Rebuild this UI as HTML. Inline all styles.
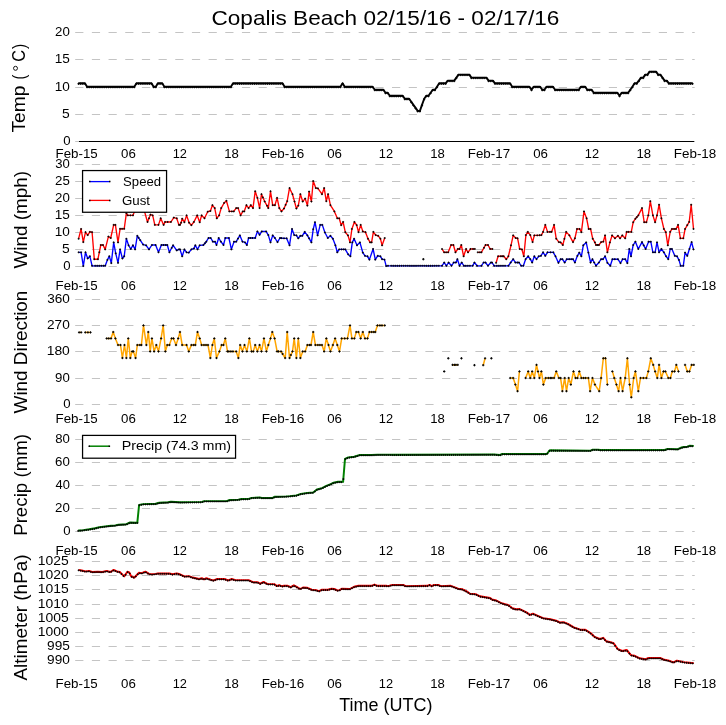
<!DOCTYPE html><html><head><meta charset="utf-8"><style>html,body{margin:0;padding:0;background:#fff;width:726px;height:725px;overflow:hidden}svg{display:block;will-change:transform}text{font-family:"Liberation Sans", sans-serif;fill:#000}</style></head><body>
<svg width="726" height="725" viewBox="0 0 726 725">
<rect width="726" height="725" fill="#fff"/>
<text transform="translate(211.47,24.90) scale(1.0884,1)" font-size="20.77">Copalis Beach 02/15/16 - 02/17/16</text>
<path d="M75.2,32.5H694.7M75.2,59.5H694.7M75.2,87.5H694.7M75.2,114.5H694.7M75.2,141.5H694.7" stroke="#c4c4c4" stroke-width="1" stroke-dasharray="8.2,8.475" fill="none"/>
<text transform="translate(55.09,35.95) scale(1.0251,1)" font-size="12.93">20</text>
<text transform="translate(54.73,62.95) scale(1.0535,1)" font-size="12.93">15</text>
<text transform="translate(54.73,90.95) scale(1.0508,1)" font-size="12.93">10</text>
<text transform="translate(62.04,117.95) scale(1.0749,1)" font-size="12.93">5</text>
<text transform="translate(63.17,144.95) scale(1.0206,1)" font-size="12.93">0</text>
<text transform="translate(55.53,157.67) scale(1.0307,1)" font-size="12.93">Feb-15</text>
<text transform="translate(121.05,157.67) scale(1.0258,1)" font-size="12.93">06</text>
<text transform="translate(172.67,157.67) scale(0.9930,1)" font-size="12.93">12</text>
<text transform="translate(224.18,157.67) scale(1.0156,1)" font-size="12.93">18</text>
<text transform="translate(261.63,157.67) scale(1.0388,1)" font-size="12.93">Feb-16</text>
<text transform="translate(327.15,157.67) scale(1.0258,1)" font-size="12.93">06</text>
<text transform="translate(378.77,157.67) scale(0.9930,1)" font-size="12.93">12</text>
<text transform="translate(430.28,157.67) scale(1.0156,1)" font-size="12.93">18</text>
<text transform="translate(467.73,157.67) scale(1.0341,1)" font-size="12.93">Feb-17</text>
<text transform="translate(533.25,157.67) scale(1.0258,1)" font-size="12.93">06</text>
<text transform="translate(584.87,157.67) scale(0.9930,1)" font-size="12.93">12</text>
<text transform="translate(636.38,157.67) scale(1.0156,1)" font-size="12.93">18</text>
<text transform="translate(673.83,157.67) scale(1.0372,1)" font-size="12.93">Feb-18</text>
<text transform="translate(25.00,132.53) rotate(-90) scale(1.0548,1)" font-size="18.22">Temp</text>
<text transform="translate(25.00,79.50) rotate(-90) scale(0.7943,1)" font-size="18.22">(</text>
<circle cx="15.5" cy="68.3" r="2.0" fill="none" stroke="#000" stroke-width="0.9"/>
<text transform="translate(25.00,61.81) rotate(-90) scale(0.8935,1)" font-size="18.22">C</text>
<text transform="translate(25.00,49.12) rotate(-90) scale(0.8779,1)" font-size="18.22">)</text>
<path d="M75.2,164.5H694.7M75.2,181.5H694.7M75.2,198.5H694.7M75.2,215.5H694.7M75.2,232.5H694.7M75.2,249.5H694.7M75.2,266.5H694.7" stroke="#c4c4c4" stroke-width="1" stroke-dasharray="8.2,8.475" fill="none"/>
<text transform="translate(55.26,167.95) scale(1.0127,1)" font-size="12.93">30</text>
<text transform="translate(55.09,184.95) scale(1.0276,1)" font-size="12.93">25</text>
<text transform="translate(55.09,201.95) scale(1.0251,1)" font-size="12.93">20</text>
<text transform="translate(54.73,218.95) scale(1.0535,1)" font-size="12.93">15</text>
<text transform="translate(54.73,235.95) scale(1.0508,1)" font-size="12.93">10</text>
<text transform="translate(62.04,252.95) scale(1.0749,1)" font-size="12.93">5</text>
<text transform="translate(63.17,269.95) scale(1.0206,1)" font-size="12.93">0</text>
<text transform="translate(55.53,289.60) scale(1.0307,1)" font-size="12.93">Feb-15</text>
<text transform="translate(121.05,289.60) scale(1.0258,1)" font-size="12.93">06</text>
<text transform="translate(172.67,289.60) scale(0.9930,1)" font-size="12.93">12</text>
<text transform="translate(224.18,289.60) scale(1.0156,1)" font-size="12.93">18</text>
<text transform="translate(261.63,289.60) scale(1.0388,1)" font-size="12.93">Feb-16</text>
<text transform="translate(327.15,289.60) scale(1.0258,1)" font-size="12.93">06</text>
<text transform="translate(378.77,289.60) scale(0.9930,1)" font-size="12.93">12</text>
<text transform="translate(430.28,289.60) scale(1.0156,1)" font-size="12.93">18</text>
<text transform="translate(467.73,289.60) scale(1.0341,1)" font-size="12.93">Feb-17</text>
<text transform="translate(533.25,289.60) scale(1.0258,1)" font-size="12.93">06</text>
<text transform="translate(584.87,289.60) scale(0.9930,1)" font-size="12.93">12</text>
<text transform="translate(636.38,289.60) scale(1.0156,1)" font-size="12.93">18</text>
<text transform="translate(673.83,289.60) scale(1.0372,1)" font-size="12.93">Feb-18</text>
<text transform="translate(26.97,268.59) rotate(-90) scale(1.0382,1)" font-size="18.22">Wind (mph)</text>
<path d="M75.2,299.5H694.7M75.2,325.5H694.7M75.2,351.5H694.7M75.2,378.5H694.7M75.2,404.5H694.7" stroke="#c4c4c4" stroke-width="1" stroke-dasharray="8.2,8.475" fill="none"/>
<text transform="translate(47.19,302.95) scale(1.0492,1)" font-size="12.93">360</text>
<text transform="translate(47.02,328.95) scale(1.0575,1)" font-size="12.93">270</text>
<text transform="translate(46.66,354.95) scale(1.0745,1)" font-size="12.93">180</text>
<text transform="translate(55.12,381.95) scale(1.0226,1)" font-size="12.93">90</text>
<text transform="translate(63.17,407.95) scale(1.0206,1)" font-size="12.93">0</text>
<text transform="translate(55.53,422.50) scale(1.0307,1)" font-size="12.93">Feb-15</text>
<text transform="translate(121.05,422.50) scale(1.0258,1)" font-size="12.93">06</text>
<text transform="translate(172.67,422.50) scale(0.9930,1)" font-size="12.93">12</text>
<text transform="translate(224.18,422.50) scale(1.0156,1)" font-size="12.93">18</text>
<text transform="translate(261.63,422.50) scale(1.0388,1)" font-size="12.93">Feb-16</text>
<text transform="translate(327.15,422.50) scale(1.0258,1)" font-size="12.93">06</text>
<text transform="translate(378.77,422.50) scale(0.9930,1)" font-size="12.93">12</text>
<text transform="translate(430.28,422.50) scale(1.0156,1)" font-size="12.93">18</text>
<text transform="translate(467.73,422.50) scale(1.0341,1)" font-size="12.93">Feb-17</text>
<text transform="translate(533.25,422.50) scale(1.0258,1)" font-size="12.93">06</text>
<text transform="translate(584.87,422.50) scale(0.9930,1)" font-size="12.93">12</text>
<text transform="translate(636.38,422.50) scale(1.0156,1)" font-size="12.93">18</text>
<text transform="translate(673.83,422.50) scale(1.0372,1)" font-size="12.93">Feb-18</text>
<text transform="translate(26.97,413.39) rotate(-90) scale(1.0368,1)" font-size="18.22">Wind Direction</text>
<path d="M75.2,439.5H694.7M75.2,462.5H694.7M75.2,485.5H694.7M75.2,508.5H694.7M75.2,531.5H694.7" stroke="#c4c4c4" stroke-width="1" stroke-dasharray="8.2,8.475" fill="none"/>
<text transform="translate(55.19,442.95) scale(1.0177,1)" font-size="12.93">80</text>
<text transform="translate(55.09,465.95) scale(1.0251,1)" font-size="12.93">60</text>
<text transform="translate(55.46,488.95) scale(0.9983,1)" font-size="12.93">40</text>
<text transform="translate(55.09,511.95) scale(1.0251,1)" font-size="12.93">20</text>
<text transform="translate(63.17,534.95) scale(1.0206,1)" font-size="12.93">0</text>
<text transform="translate(55.53,554.60) scale(1.0307,1)" font-size="12.93">Feb-15</text>
<text transform="translate(121.05,554.60) scale(1.0258,1)" font-size="12.93">06</text>
<text transform="translate(172.67,554.60) scale(0.9930,1)" font-size="12.93">12</text>
<text transform="translate(224.18,554.60) scale(1.0156,1)" font-size="12.93">18</text>
<text transform="translate(261.63,554.60) scale(1.0388,1)" font-size="12.93">Feb-16</text>
<text transform="translate(327.15,554.60) scale(1.0258,1)" font-size="12.93">06</text>
<text transform="translate(378.77,554.60) scale(0.9930,1)" font-size="12.93">12</text>
<text transform="translate(430.28,554.60) scale(1.0156,1)" font-size="12.93">18</text>
<text transform="translate(467.73,554.60) scale(1.0341,1)" font-size="12.93">Feb-17</text>
<text transform="translate(533.25,554.60) scale(1.0258,1)" font-size="12.93">06</text>
<text transform="translate(584.87,554.60) scale(0.9930,1)" font-size="12.93">12</text>
<text transform="translate(636.38,554.60) scale(1.0156,1)" font-size="12.93">18</text>
<text transform="translate(673.83,554.60) scale(1.0372,1)" font-size="12.93">Feb-18</text>
<text transform="translate(26.97,535.85) rotate(-90) scale(1.0280,1)" font-size="18.22">Precip (mm)</text>
<path d="M75.2,561.5H694.7M75.2,575.5H694.7M75.2,589.5H694.7M75.2,604.5H694.7M75.2,618.5H694.7M75.2,632.5H694.7M75.2,646.5H694.7M75.2,660.5H694.7" stroke="#c4c4c4" stroke-width="1" stroke-dasharray="8.2,8.475" fill="none"/>
<text transform="translate(37.86,564.95) scale(1.0755,1)" font-size="12.93">1025</text>
<text transform="translate(37.86,578.95) scale(1.0742,1)" font-size="12.93">1020</text>
<text transform="translate(37.86,592.95) scale(1.0755,1)" font-size="12.93">1015</text>
<text transform="translate(37.86,607.95) scale(1.0742,1)" font-size="12.93">1010</text>
<text transform="translate(37.86,621.95) scale(1.0755,1)" font-size="12.93">1005</text>
<text transform="translate(37.86,635.95) scale(1.0742,1)" font-size="12.93">1000</text>
<text transform="translate(47.05,649.95) scale(1.0575,1)" font-size="12.93">995</text>
<text transform="translate(47.05,663.95) scale(1.0559,1)" font-size="12.93">990</text>
<text transform="translate(55.53,687.50) scale(1.0307,1)" font-size="12.93">Feb-15</text>
<text transform="translate(121.05,687.50) scale(1.0258,1)" font-size="12.93">06</text>
<text transform="translate(172.67,687.50) scale(0.9930,1)" font-size="12.93">12</text>
<text transform="translate(224.18,687.50) scale(1.0156,1)" font-size="12.93">18</text>
<text transform="translate(261.63,687.50) scale(1.0388,1)" font-size="12.93">Feb-16</text>
<text transform="translate(327.15,687.50) scale(1.0258,1)" font-size="12.93">06</text>
<text transform="translate(378.77,687.50) scale(0.9930,1)" font-size="12.93">12</text>
<text transform="translate(430.28,687.50) scale(1.0156,1)" font-size="12.93">18</text>
<text transform="translate(467.73,687.50) scale(1.0341,1)" font-size="12.93">Feb-17</text>
<text transform="translate(533.25,687.50) scale(1.0258,1)" font-size="12.93">06</text>
<text transform="translate(584.87,687.50) scale(0.9930,1)" font-size="12.93">12</text>
<text transform="translate(636.38,687.50) scale(1.0156,1)" font-size="12.93">18</text>
<text transform="translate(673.83,687.50) scale(1.0372,1)" font-size="12.93">Feb-18</text>
<text transform="translate(26.97,680.55) rotate(-90) scale(1.0388,1)" font-size="18.22">Altimeter (hPa)</text>
<path d="M79,141.5H694.2" stroke="#000" stroke-width="1.1"/>
<text transform="translate(339.30,710.80) scale(0.9871,1)" font-size="18.22">Time (UTC)</text>
<path d="M78.6,238.7 L81.1,229.0 L83.3,242.1 L85.5,232.2 L87.7,235.1 L89.9,231.9 L92.1,232.2 L94.3,259.2 L97.9,259.2 L100.8,245.0 L103.0,245.0 L105.2,249.4 L108.4,236.6 L110.7,238.0 L113.7,224.9 L115.4,224.9 L118.0,242.4 L120.1,228.8 L124.2,228.8 L126.4,213.2 L127.8,215.4 L132.9,215.4 L134.4,211.7 L137.3,208.8 L141.7,208.8 L144.6,211.7 L147.5,222.0 L150.5,214.6 L152.7,215.4 L154.8,224.9 L158.5,224.9 L160.7,218.3 L163.6,224.9 L165.1,222.0 L170.9,222.0 L173.8,217.6 L176.7,218.3 L178.9,224.9 L180.0,224.9 L181.1,222.7 L182.2,218.7 L184.4,222.2 L186.6,215.4 L189.1,222.7 L191.4,225.2 L193.9,222.0 L197.2,215.4 L199.7,222.2 L201.6,215.4 L204.5,218.3 L207.7,211.7 L210.4,211.0 L212.4,205.2 L214.7,208.1 L216.8,218.3 L219.1,215.4 L221.2,208.1 L224.1,203.0 L226.4,200.8 L229.4,211.4 L233.7,211.4 L236.2,208.1 L238.1,208.1 L240.6,215.4 L242.8,211.4 L244.2,211.4 L246.4,205.2 L248.6,208.1 L250.8,205.2 L253.0,208.1 L255.2,191.3 L257.4,197.9 L259.6,208.1 L261.5,194.2 L264.7,201.5 L268.3,208.1 L270.5,191.3 L272.7,205.2 L274.9,205.2 L277.1,197.9 L279.3,208.1 L281.5,211.4 L284.0,208.5 L287.2,201.2 L289.5,188.1 L292.5,194.2 L294.5,201.5 L296.4,208.5 L298.3,205.6 L300.4,194.2 L302.7,201.5 L305.2,198.6 L307.4,205.6 L309.1,191.6 L311.4,201.5 L313.2,181.1 L315.8,188.1 L317.9,188.4 L322.0,194.2 L324.2,188.1 L326.3,201.2 L328.1,194.2 L330.4,205.2 L334.4,211.4 L337.3,218.3 L339.2,218.3 L341.2,225.2 L343.1,222.0 L345.3,232.2 L348.0,235.4 L350.0,242.4 L351.9,229.0 L354.4,222.0 L356.7,225.2 L358.5,232.2 L360.7,224.9 L362.8,231.4 L365.5,232.2 L368.0,238.7 L370.1,242.4 L371.6,242.4 L373.4,231.9 L375.7,235.1 L378.2,235.8 L380.4,238.7 L382.1,245.3 L384.7,238.0" fill="none" stroke="#ff0000" stroke-width="1.35" stroke-linejoin="round"/>
<path d="M77.63,238.74h2.00M78.63,237.74v2.00M80.11,228.96h2.00M81.11,227.96v2.00M82.30,242.10h2.00M83.30,241.10v2.00M84.49,232.17h2.00M85.49,231.17v2.00M86.68,235.09h2.00M87.68,234.09v2.00M88.87,231.88h2.00M89.87,230.88v2.00M91.06,232.17h2.00M92.06,231.17v2.00M93.25,259.19h2.00M94.25,258.19v2.00M96.90,259.19h2.00M97.90,258.19v2.00M99.82,245.02h2.00M100.82,244.02v2.00M102.01,245.02h2.00M103.01,244.02v2.00M104.20,249.40h2.00M105.20,248.40v2.00M107.41,236.55h2.00M108.41,235.55v2.00M109.75,238.01h2.00M110.75,237.01v2.00M112.67,224.87h2.00M113.67,223.87v2.00M114.42,224.87h2.00M115.42,223.87v2.00M117.05,242.39h2.00M118.05,241.39v2.00M119.09,228.81h2.00M120.09,227.81v2.00M123.18,228.81h2.00M124.18,227.81v2.00M125.37,213.19h2.00M126.37,212.19v2.00M126.83,215.38h2.00M127.83,214.38v2.00M131.94,215.38h2.00M132.94,214.38v2.00M133.40,211.73h2.00M134.40,210.73v2.00M136.32,208.81h2.00M137.32,207.81v2.00M140.70,208.81h2.00M141.70,207.81v2.00M143.62,211.73h2.00M144.62,210.73v2.00M146.54,221.95h2.00M147.54,220.95v2.00M149.46,214.65h2.00M150.46,213.65v2.00M151.65,215.38h2.00M152.65,214.38v2.00M153.84,224.87h2.00M154.84,223.87v2.00M157.49,224.87h2.00M158.49,223.87v2.00M159.68,218.30h2.00M160.68,217.30v2.00M162.60,224.87h2.00M163.60,223.87v2.00M164.06,221.95h2.00M165.06,220.95v2.00M169.90,221.95h2.00M170.90,220.95v2.00M172.82,217.57h2.00M173.82,216.57v2.00M175.74,218.30h2.00M176.74,217.30v2.00M177.93,224.87h2.00M178.93,223.87v2.00M179.00,224.87h2.00M180.00,223.87v2.00M180.12,222.68h2.00M181.12,221.68v2.00M181.19,218.74h2.00M182.19,217.74v2.00M183.38,222.24h2.00M184.38,221.24v2.00M185.57,215.38h2.00M186.57,214.38v2.00M188.05,222.68h2.00M189.05,221.68v2.00M190.39,225.16h2.00M191.39,224.16v2.00M192.87,221.95h2.00M193.87,220.95v2.00M196.23,215.38h2.00M197.23,214.38v2.00M198.71,222.24h2.00M199.71,221.24v2.00M200.61,215.38h2.00M201.61,214.38v2.00M203.53,218.30h2.00M204.53,217.30v2.00M206.74,211.73h2.00M207.74,210.73v2.00M209.37,211.00h2.00M210.37,210.00v2.00M211.41,205.16h2.00M212.41,204.16v2.00M213.75,208.08h2.00M214.75,207.08v2.00M215.79,218.30h2.00M216.79,217.30v2.00M218.13,215.38h2.00M219.13,214.38v2.00M220.17,208.08h2.00M221.17,207.08v2.00M223.09,202.97h2.00M224.09,201.97v2.00M225.43,200.78h2.00M226.43,199.78v2.00M228.35,211.44h2.00M229.35,210.44v2.00M232.73,211.44h2.00M233.73,210.44v2.00M235.21,208.08h2.00M236.21,207.08v2.00M237.11,208.08h2.00M238.11,207.08v2.00M239.59,215.38h2.00M240.59,214.38v2.00M241.78,211.44h2.00M242.78,210.44v2.00M243.24,211.44h2.00M244.24,210.44v2.00M245.43,205.16h2.00M246.43,204.16v2.00M247.62,208.08h2.00M248.62,207.08v2.00M249.81,205.16h2.00M250.81,204.16v2.00M252.00,208.08h2.00M253.00,207.08v2.00M254.19,191.29h2.00M255.19,190.29v2.00M256.38,197.86h2.00M257.38,196.86v2.00M258.57,208.08h2.00M259.57,207.08v2.00M260.47,194.21h2.00M261.47,193.21v2.00M263.68,201.51h2.00M264.68,200.51v2.00M267.33,208.08h2.00M268.33,207.08v2.00M269.52,191.29h2.00M270.52,190.29v2.00M271.71,205.16h2.00M272.71,204.16v2.00M273.90,205.16h2.00M274.90,204.16v2.00M276.09,197.86h2.00M277.09,196.86v2.00M278.28,208.08h2.00M279.28,207.08v2.00M280.47,211.44h2.00M281.47,210.44v2.00M283.00,208.52h2.00M284.00,207.52v2.00M286.21,201.21h2.00M287.21,200.21v2.00M288.55,188.07h2.00M289.55,187.07v2.00M291.47,194.21h2.00M292.47,193.21v2.00M293.51,201.51h2.00M294.51,200.51v2.00M295.41,208.52h2.00M296.41,207.52v2.00M297.31,205.60h2.00M298.31,204.60v2.00M299.35,194.21h2.00M300.35,193.21v2.00M301.69,201.51h2.00M302.69,200.51v2.00M304.17,198.59h2.00M305.17,197.59v2.00M306.36,205.60h2.00M307.36,204.60v2.00M308.11,191.58h2.00M309.11,190.58v2.00M310.45,201.51h2.00M311.45,200.51v2.00M312.20,181.06h2.00M313.20,180.06v2.00M314.83,188.07h2.00M315.83,187.07v2.00M316.87,188.36h2.00M317.87,187.36v2.00M320.96,194.21h2.00M321.96,193.21v2.00M323.15,188.07h2.00M324.15,187.07v2.00M325.34,201.21h2.00M326.34,200.21v2.00M327.09,194.21h2.00M328.09,193.21v2.00M329.43,205.16h2.00M330.43,204.16v2.00M333.37,211.44h2.00M334.37,210.44v2.00M336.29,218.30h2.00M337.29,217.30v2.00M338.19,218.30h2.00M339.19,217.30v2.00M340.23,225.16h2.00M341.23,224.16v2.00M342.13,221.95h2.00M343.13,220.95v2.00M344.32,232.17h2.00M345.32,231.17v2.00M346.95,235.39h2.00M347.95,234.39v2.00M349.00,242.39h2.00M350.00,241.39v2.00M350.89,228.96h2.00M351.89,227.96v2.00M353.38,221.95h2.00M354.38,220.95v2.00M355.71,225.16h2.00M356.71,224.16v2.00M357.46,232.17h2.00M358.46,231.17v2.00M359.65,224.87h2.00M360.65,223.87v2.00M361.84,231.44h2.00M362.84,230.44v2.00M364.47,232.17h2.00M365.47,231.17v2.00M366.95,238.74h2.00M367.95,237.74v2.00M369.14,242.39h2.00M370.14,241.39v2.00M370.60,242.39h2.00M371.60,241.39v2.00M372.36,231.88h2.00M373.36,230.88v2.00M374.69,235.09h2.00M375.69,234.09v2.00M377.17,235.82h2.00M378.17,234.82v2.00M379.36,238.74h2.00M380.36,237.74v2.00M381.12,245.32h2.00M382.12,244.32v2.00M383.74,238.01h2.00M384.74,237.01v2.00M98.33,252.27h2.00M99.33,251.27v2.00M121.10,228.81h2.00M122.10,227.81v2.00M129.38,215.38h2.00M130.38,214.38v2.00M137.66,208.81h2.00M138.66,207.81v2.00M148.01,218.29h2.00M149.01,217.29v2.00M166.64,221.95h2.00M167.64,220.95v2.00M230.81,211.44h2.00M231.81,210.44v2.00M261.86,197.36h2.00M262.86,196.36v2.00M266.00,205.67h2.00M267.00,204.67v2.00M284.63,204.82h2.00M285.63,203.82v2.00" stroke="#000" stroke-width="0.85" fill="none"/>
<path d="M442.0,249.0 L444.2,252.3 L448.2,252.3 L451.1,245.0 L453.4,245.0 L455.5,252.3 L457.8,249.0 L459.5,249.0 L461.3,245.0 L463.6,256.3 L466.1,249.0 L468.0,252.3 L470.5,249.0 L474.9,249.0" fill="none" stroke="#ff0000" stroke-width="1.35" stroke-linejoin="round"/>
<path d="M441.02,248.97h2.00M442.02,247.97v2.00M443.21,252.32h2.00M444.21,251.32v2.00M447.15,252.32h2.00M448.15,251.32v2.00M450.07,245.02h2.00M451.07,244.02v2.00M452.41,245.02h2.00M453.41,244.02v2.00M454.46,252.32h2.00M455.46,251.32v2.00M456.79,248.97h2.00M457.79,247.97v2.00M458.54,248.97h2.00M459.54,247.97v2.00M460.30,245.02h2.00M461.30,244.02v2.00M462.63,256.27h2.00M463.63,255.27v2.00M465.11,248.97h2.00M466.11,247.97v2.00M467.01,252.32h2.00M468.01,251.32v2.00M469.49,248.97h2.00M470.49,247.97v2.00M473.87,248.97h2.00M474.87,247.97v2.00M445.16,252.32h2.00M446.16,251.32v2.00M472.07,248.97h2.00M473.07,247.97v2.00" stroke="#000" stroke-width="0.85" fill="none"/>
<path d="M477.8,252.3 L481.4,252.3 L485.5,245.0 L488.0,245.0 L490.2,249.0 L492.4,249.0" fill="none" stroke="#ff0000" stroke-width="1.35" stroke-linejoin="round"/>
<path d="M476.79,252.32h2.00M477.79,251.32v2.00M480.44,252.32h2.00M481.44,251.32v2.00M484.53,245.02h2.00M485.53,244.02v2.00M487.01,245.02h2.00M488.01,244.02v2.00M489.20,248.97h2.00M490.20,247.97v2.00M491.39,248.97h2.00M492.39,247.97v2.00M478.86,252.32h2.00M479.86,251.32v2.00M483.00,247.75h2.00M484.00,246.75v2.00" stroke="#000" stroke-width="0.85" fill="none"/>
<path d="M496.1,262.8 L498.1,256.3 L500.8,256.3 L503.7,256.3 L506.3,259.2 L508.4,256.3 L511.0,245.3 L513.2,235.4 L515.7,238.0 L517.6,238.3 L519.7,249.0 L521.9,249.4 L523.8,256.3 L525.9,235.1 L527.8,231.9 L530.3,235.1 L532.6,242.1 L534.3,235.4 L537.3,235.4 L541.4,235.1 L543.1,231.9 L545.3,224.9 L547.5,231.9 L551.6,231.9 L554.1,224.9 L556.2,238.7 L558.9,242.1 L560.6,242.4 L562.8,245.0 L566.2,231.9 L569.4,235.4 L573.0,242.1 L574.9,238.3 L577.0,229.0 L579.6,229.0 L581.4,232.2 L584.0,211.4 L586.6,218.3 L588.7,229.0 L590.6,229.0 L592.7,238.7 L594.9,242.4 L596.0,245.0 L598.9,245.0 L601.1,242.1 L603.3,241.7 L605.1,235.4 L607.4,252.3 L609.9,242.4 L612.1,235.4 L615.0,238.3 L617.9,235.8 L620.1,238.3 L622.3,235.4 L625.2,238.3 L626.7,231.9 L631.3,231.9 L633.2,222.2 L635.4,218.7 L638.3,215.4 L642.0,208.1 L644.2,222.2 L646.4,222.2 L648.3,215.4 L650.3,201.2 L652.9,215.4 L655.1,222.2 L657.0,215.4 L659.1,204.7 L661.4,218.3 L663.9,229.0 L665.8,232.2 L667.8,245.3 L670.2,231.9 L671.9,229.0 L676.0,229.0 L678.1,224.9 L680.4,238.3 L683.3,238.3 L685.1,229.0 L687.3,225.2 L689.2,222.0 L691.2,204.7 L693.5,229.0" fill="none" stroke="#ff0000" stroke-width="1.35" stroke-linejoin="round"/>
<path d="M495.09,262.84h2.00M496.09,261.84v2.00M497.13,256.27h2.00M498.13,255.27v2.00M499.76,256.27h2.00M500.76,255.27v2.00M502.68,256.27h2.00M503.68,255.27v2.00M505.31,259.19h2.00M506.31,258.19v2.00M507.35,256.27h2.00M508.35,255.27v2.00M509.98,245.32h2.00M510.98,244.32v2.00M512.17,235.39h2.00M513.17,234.39v2.00M514.65,238.01h2.00M515.65,237.01v2.00M516.55,238.31h2.00M517.55,237.31v2.00M518.74,248.97h2.00M519.74,247.97v2.00M520.93,249.40h2.00M521.93,248.40v2.00M522.83,256.27h2.00M523.83,255.27v2.00M524.87,235.09h2.00M525.87,234.09v2.00M526.77,231.88h2.00M527.77,230.88v2.00M529.25,235.09h2.00M530.25,234.09v2.00M531.59,242.10h2.00M532.59,241.10v2.00M533.34,235.39h2.00M534.34,234.39v2.00M536.26,235.39h2.00M537.26,234.39v2.00M540.35,235.09h2.00M541.35,234.09v2.00M542.10,231.88h2.00M543.10,230.88v2.00M544.29,224.87h2.00M545.29,223.87v2.00M546.48,231.88h2.00M547.48,230.88v2.00M550.57,231.88h2.00M551.57,230.88v2.00M553.05,224.87h2.00M554.05,223.87v2.00M555.24,238.74h2.00M556.24,237.74v2.00M557.87,242.10h2.00M558.87,241.10v2.00M559.62,242.39h2.00M560.62,241.39v2.00M561.81,245.02h2.00M562.81,244.02v2.00M565.17,231.88h2.00M566.17,230.88v2.00M568.38,235.39h2.00M569.38,234.39v2.00M572.03,242.10h2.00M573.03,241.10v2.00M573.93,238.31h2.00M574.93,237.31v2.00M575.98,228.96h2.00M576.98,227.96v2.00M578.60,228.96h2.00M579.60,227.96v2.00M580.36,232.17h2.00M581.36,231.17v2.00M582.98,211.44h2.00M583.98,210.44v2.00M585.61,218.30h2.00M586.61,217.30v2.00M587.66,228.96h2.00M588.66,227.96v2.00M589.55,228.96h2.00M590.55,227.96v2.00M591.74,238.74h2.00M592.74,237.74v2.00M593.93,242.39h2.00M594.93,241.39v2.00M595.00,245.02h2.00M596.00,244.02v2.00M597.92,245.02h2.00M598.92,244.02v2.00M600.11,242.10h2.00M601.11,241.10v2.00M602.30,241.66h2.00M603.30,240.66v2.00M604.05,235.39h2.00M605.05,234.39v2.00M606.39,252.32h2.00M607.39,251.32v2.00M608.87,242.39h2.00M609.87,241.39v2.00M611.06,235.39h2.00M612.06,234.39v2.00M613.98,238.31h2.00M614.98,237.31v2.00M616.90,235.82h2.00M617.90,234.82v2.00M619.09,238.31h2.00M620.09,237.31v2.00M621.28,235.39h2.00M622.28,234.39v2.00M624.20,238.31h2.00M625.20,237.31v2.00M625.66,231.88h2.00M626.66,230.88v2.00M630.33,231.88h2.00M631.33,230.88v2.00M632.23,222.24h2.00M633.23,221.24v2.00M634.42,218.74h2.00M635.42,217.74v2.00M637.34,215.38h2.00M638.34,214.38v2.00M640.99,208.08h2.00M641.99,207.08v2.00M643.18,222.24h2.00M644.18,221.24v2.00M645.37,222.24h2.00M646.37,221.24v2.00M647.27,215.38h2.00M648.27,214.38v2.00M649.31,201.21h2.00M650.31,200.21v2.00M651.94,215.38h2.00M652.94,214.38v2.00M654.13,222.24h2.00M655.13,221.24v2.00M656.03,215.38h2.00M657.03,214.38v2.00M658.07,204.72h2.00M659.07,203.72v2.00M660.41,218.30h2.00M661.41,217.30v2.00M662.89,228.96h2.00M663.89,227.96v2.00M664.79,232.17h2.00M665.79,231.17v2.00M666.84,245.32h2.00M667.84,244.32v2.00M669.17,231.88h2.00M670.17,230.88v2.00M670.92,228.96h2.00M671.92,227.96v2.00M675.01,228.96h2.00M676.01,227.96v2.00M677.06,224.87h2.00M678.06,223.87v2.00M679.39,238.31h2.00M680.39,237.31v2.00M682.31,238.31h2.00M683.31,237.31v2.00M684.06,228.96h2.00M685.06,227.96v2.00M686.25,225.16h2.00M687.25,224.16v2.00M688.15,221.95h2.00M689.15,220.95v2.00M690.20,204.72h2.00M691.20,203.72v2.00M692.53,228.96h2.00M693.53,227.96v2.00M501.30,256.27h2.00M502.30,255.27v2.00M538.56,235.22h2.00M539.56,234.22v2.00M548.91,231.88h2.00M549.91,230.88v2.00M563.40,238.82h2.00M564.40,237.82v2.00M596.52,245.02h2.00M597.52,244.02v2.00M627.57,231.88h2.00M628.57,230.88v2.00M635.85,217.10h2.00M636.85,216.10v2.00M673.11,228.96h2.00M674.11,227.96v2.00" stroke="#000" stroke-width="0.85" fill="none"/>
<path d="M78.6,252.3 L81.1,252.3 L83.3,266.1 L85.5,252.3 L87.7,258.5 L89.9,256.3 L92.1,265.8 L105.2,265.8 L107.4,259.9 L109.3,256.3 L111.3,263.1 L113.7,242.4 L115.7,253.3 L118.0,262.8 L120.1,249.4 L122.4,258.5 L124.2,256.3 L126.4,238.7 L128.6,245.3 L130.8,249.0 L132.9,245.3 L135.1,249.4 L137.3,235.8 L140.2,240.2 L143.2,244.6 L146.1,245.3 L149.0,249.4 L151.9,245.0 L155.6,245.0 L158.5,252.3 L161.4,245.0 L167.3,245.0 L169.4,252.3 L173.1,245.3 L176.7,250.4 L178.9,249.4 L180.0,249.4 L182.2,256.3 L184.4,249.4 L186.6,252.3 L188.8,252.6 L191.4,249.4 L193.9,248.5 L195.3,245.3 L197.5,249.4 L199.7,245.3 L203.4,245.0 L206.3,241.7 L208.5,238.0 L210.7,238.0 L212.9,241.7 L215.0,241.7 L216.5,245.0 L218.7,238.0 L220.9,241.7 L223.5,245.0 L225.3,238.0 L228.9,238.0 L231.4,249.4 L234.0,241.7 L236.2,241.7 L239.9,235.4 L242.5,241.7 L245.0,242.4 L246.9,245.0 L248.6,238.0 L255.2,238.0 L257.4,231.4 L259.6,234.8 L261.8,231.4 L266.1,231.4 L268.3,235.1 L270.5,242.4 L272.7,235.4 L274.9,238.0 L277.5,242.1 L280.0,238.0 L284.0,238.3 L286.6,238.3 L289.5,245.3 L292.0,229.0 L294.2,235.1 L296.4,235.4 L298.3,238.3 L300.4,235.8 L302.3,235.8 L304.7,231.9 L307.4,235.4 L309.1,238.3 L311.4,242.4 L313.2,229.3 L315.0,222.2 L317.6,235.4 L320.2,224.9 L322.3,224.9 L324.9,232.5 L327.8,238.0 L330.4,235.8 L332.9,238.7 L335.4,245.3 L337.3,252.3 L339.2,249.4 L345.3,249.4 L348.2,254.4 L350.4,256.3 L352.3,242.4 L354.1,238.7 L357.0,245.3 L359.9,242.4 L362.8,252.6 L365.0,255.8 L367.5,256.3 L369.4,259.6 L373.1,249.0 L375.3,259.6 L377.7,255.8 L380.4,256.3 L382.1,259.2 L384.5,259.6 L386.2,266.1 L388.0,265.8 L442.0,265.8 L444.2,262.5 L446.4,265.8 L448.6,262.5 L451.5,265.8 L453.7,262.5 L455.9,262.5 L457.4,259.2 L459.5,265.8 L461.7,262.5 L463.9,265.8 L472.7,265.8 L474.4,262.5 L477.1,265.8 L481.4,265.8 L483.6,262.5 L485.5,262.5 L488.0,265.8 L490.9,262.5 L492.0,262.5 L494.2,265.8 L508.4,265.8 L510.7,262.5 L513.2,259.2 L515.4,262.5 L519.0,262.5 L521.2,265.8 L523.4,265.8 L525.6,259.2 L528.2,256.3 L530.3,259.2 L532.2,262.5 L534.3,256.3 L536.5,259.2 L538.7,256.3 L540.9,255.8 L543.1,252.3 L545.3,255.8 L547.5,252.3 L553.3,252.3 L555.5,256.3 L558.4,262.8 L560.6,259.2 L562.4,259.2 L564.7,262.5 L566.8,259.2 L573.0,259.2 L574.9,262.5 L577.4,255.8 L579.3,252.6 L581.4,256.3 L583.3,245.3 L586.2,242.4 L588.4,252.6 L590.6,262.5 L592.5,259.2 L594.2,262.5 L596.0,265.8 L598.9,262.5 L601.1,259.2 L603.0,259.2 L605.1,256.3 L607.4,262.8 L610.3,265.8 L612.4,259.2 L617.9,259.2 L620.5,263.1 L622.6,259.2 L625.2,259.2 L627.4,263.1 L629.3,249.0 L631.0,256.3 L633.2,245.0 L635.4,241.7 L638.3,249.0 L642.0,242.1 L645.6,249.0 L648.6,241.7 L650.8,241.7 L652.9,252.3 L655.1,252.3 L657.0,242.4 L659.1,252.3 L661.4,249.0 L663.9,252.3 L666.1,256.3 L668.3,259.2 L670.2,249.0 L671.9,249.0 L674.8,255.8 L677.0,256.3 L678.9,259.9 L680.7,265.8 L683.3,265.8 L685.1,252.6 L687.3,255.8 L689.4,249.0 L691.6,242.1 L693.5,249.4" fill="none" stroke="#0000ff" stroke-width="1.35" stroke-linejoin="round"/>
<path d="M77.63,252.32h2.00M78.63,251.32v2.00M80.11,252.32h2.00M81.11,251.32v2.00M82.30,266.05h2.00M83.30,265.05v2.00M84.49,252.32h2.00M85.49,251.32v2.00M86.68,258.46h2.00M87.68,257.46v2.00M88.87,256.27h2.00M89.87,255.27v2.00M91.06,265.76h2.00M92.06,264.76v2.00M104.20,265.76h2.00M105.20,264.76v2.00M106.39,259.92h2.00M107.39,258.92v2.00M108.29,256.27h2.00M109.29,255.27v2.00M110.33,263.13h2.00M111.33,262.13v2.00M112.67,242.39h2.00M113.67,241.39v2.00M114.71,253.35h2.00M115.71,252.35v2.00M117.05,262.84h2.00M118.05,261.84v2.00M119.09,249.40h2.00M120.09,248.40v2.00M121.43,258.46h2.00M122.43,257.46v2.00M123.18,256.27h2.00M124.18,255.27v2.00M125.37,238.74h2.00M126.37,237.74v2.00M127.56,245.32h2.00M128.56,244.32v2.00M129.75,248.97h2.00M130.75,247.97v2.00M131.94,245.32h2.00M132.94,244.32v2.00M134.13,249.40h2.00M135.13,248.40v2.00M136.32,235.82h2.00M137.32,234.82v2.00M139.24,240.20h2.00M140.24,239.20v2.00M142.16,244.59h2.00M143.16,243.59v2.00M145.08,245.32h2.00M146.08,244.32v2.00M148.00,249.40h2.00M149.00,248.40v2.00M150.92,245.02h2.00M151.92,244.02v2.00M154.57,245.02h2.00M155.57,244.02v2.00M157.49,252.32h2.00M158.49,251.32v2.00M160.41,245.02h2.00M161.41,244.02v2.00M166.25,245.02h2.00M167.25,244.02v2.00M168.44,252.32h2.00M169.44,251.32v2.00M172.09,245.32h2.00M173.09,244.32v2.00M175.74,250.43h2.00M176.74,249.43v2.00M177.93,249.40h2.00M178.93,248.40v2.00M179.00,249.40h2.00M180.00,248.40v2.00M181.19,256.27h2.00M182.19,255.27v2.00M183.38,249.40h2.00M184.38,248.40v2.00M185.57,252.32h2.00M186.57,251.32v2.00M187.76,252.62h2.00M188.76,251.62v2.00M190.39,249.40h2.00M191.39,248.40v2.00M192.87,248.53h2.00M193.87,247.53v2.00M194.33,245.32h2.00M195.33,244.32v2.00M196.52,249.40h2.00M197.52,248.40v2.00M198.71,245.32h2.00M199.71,244.32v2.00M202.36,245.02h2.00M203.36,244.02v2.00M205.28,241.66h2.00M206.28,240.66v2.00M207.47,238.01h2.00M208.47,237.01v2.00M209.66,238.01h2.00M210.66,237.01v2.00M211.85,241.66h2.00M212.85,240.66v2.00M214.04,241.66h2.00M215.04,240.66v2.00M215.50,245.02h2.00M216.50,244.02v2.00M217.69,238.01h2.00M218.69,237.01v2.00M219.88,241.66h2.00M220.88,240.66v2.00M222.51,245.02h2.00M223.51,244.02v2.00M224.26,238.01h2.00M225.26,237.01v2.00M227.91,238.01h2.00M228.91,237.01v2.00M230.39,249.40h2.00M231.39,248.40v2.00M233.02,241.66h2.00M234.02,240.66v2.00M235.21,241.66h2.00M236.21,240.66v2.00M238.86,235.39h2.00M239.86,234.39v2.00M241.49,241.66h2.00M242.49,240.66v2.00M243.97,242.39h2.00M244.97,241.39v2.00M245.87,245.02h2.00M246.87,244.02v2.00M247.62,238.01h2.00M248.62,237.01v2.00M254.19,238.01h2.00M255.19,237.01v2.00M256.38,231.44h2.00M257.38,230.44v2.00M258.57,234.80h2.00M259.57,233.80v2.00M260.76,231.44h2.00M261.76,230.44v2.00M265.14,231.44h2.00M266.14,230.44v2.00M267.33,235.09h2.00M268.33,234.09v2.00M269.52,242.39h2.00M270.52,241.39v2.00M271.71,235.39h2.00M272.71,234.39v2.00M273.90,238.01h2.00M274.90,237.01v2.00M276.53,242.10h2.00M277.53,241.10v2.00M279.01,238.01h2.00M280.01,237.01v2.00M283.00,238.31h2.00M284.00,237.31v2.00M285.63,238.31h2.00M286.63,237.31v2.00M288.55,245.32h2.00M289.55,244.32v2.00M291.03,228.96h2.00M292.03,227.96v2.00M293.22,235.09h2.00M294.22,234.09v2.00M295.41,235.39h2.00M296.41,234.39v2.00M297.31,238.31h2.00M298.31,237.31v2.00M299.35,235.82h2.00M300.35,234.82v2.00M301.25,235.82h2.00M302.25,234.82v2.00M303.73,231.88h2.00M304.73,230.88v2.00M306.36,235.39h2.00M307.36,234.39v2.00M308.11,238.31h2.00M309.11,237.31v2.00M310.45,242.39h2.00M311.45,241.39v2.00M312.20,229.25h2.00M313.20,228.25v2.00M313.95,222.24h2.00M314.95,221.24v2.00M316.58,235.39h2.00M317.58,234.39v2.00M319.21,224.87h2.00M320.21,223.87v2.00M321.25,224.87h2.00M322.25,223.87v2.00M323.88,232.46h2.00M324.88,231.46v2.00M326.80,238.01h2.00M327.80,237.01v2.00M329.43,235.82h2.00M330.43,234.82v2.00M331.91,238.74h2.00M332.91,237.74v2.00M334.39,245.32h2.00M335.39,244.32v2.00M336.29,252.32h2.00M337.29,251.32v2.00M338.19,249.40h2.00M339.19,248.40v2.00M344.32,249.40h2.00M345.32,248.40v2.00M347.24,254.37h2.00M348.24,253.37v2.00M349.43,256.27h2.00M350.43,255.27v2.00M351.33,242.39h2.00M352.33,241.39v2.00M353.08,238.74h2.00M354.08,237.74v2.00M356.00,245.32h2.00M357.00,244.32v2.00M358.92,242.39h2.00M359.92,241.39v2.00M361.84,252.62h2.00M362.84,251.62v2.00M364.03,255.83h2.00M365.03,254.83v2.00M366.52,256.27h2.00M367.52,255.27v2.00M368.41,259.63h2.00M369.41,258.63v2.00M372.06,248.97h2.00M373.06,247.97v2.00M374.25,259.63h2.00M375.25,258.63v2.00M376.74,255.83h2.00M377.74,254.83v2.00M379.36,256.27h2.00M380.36,255.27v2.00M381.12,259.19h2.00M382.12,258.19v2.00M383.45,259.63h2.00M384.45,258.63v2.00M385.20,266.05h2.00M386.20,265.05v2.00M387.00,265.76h2.00M388.00,264.76v2.00M441.02,265.76h2.00M442.02,264.76v2.00M443.21,262.55h2.00M444.21,261.55v2.00M445.40,265.76h2.00M446.40,264.76v2.00M447.59,262.55h2.00M448.59,261.55v2.00M450.51,265.76h2.00M451.51,264.76v2.00M452.70,262.55h2.00M453.70,261.55v2.00M454.89,262.55h2.00M455.89,261.55v2.00M456.35,259.19h2.00M457.35,258.19v2.00M458.54,265.76h2.00M459.54,264.76v2.00M460.73,262.55h2.00M461.73,261.55v2.00M462.92,265.76h2.00M463.92,264.76v2.00M471.68,265.76h2.00M472.68,264.76v2.00M473.44,262.55h2.00M474.44,261.55v2.00M476.06,265.76h2.00M477.06,264.76v2.00M480.44,265.76h2.00M481.44,264.76v2.00M482.63,262.55h2.00M483.63,261.55v2.00M484.53,262.55h2.00M485.53,261.55v2.00M487.01,265.76h2.00M488.01,264.76v2.00M489.93,262.55h2.00M490.93,261.55v2.00M491.00,262.55h2.00M492.00,261.55v2.00M493.19,265.76h2.00M494.19,264.76v2.00M507.35,265.76h2.00M508.35,264.76v2.00M509.69,262.55h2.00M510.69,261.55v2.00M512.17,259.19h2.00M513.17,258.19v2.00M514.36,262.55h2.00M515.36,261.55v2.00M518.01,262.55h2.00M519.01,261.55v2.00M520.20,265.76h2.00M521.20,264.76v2.00M522.39,265.76h2.00M523.39,264.76v2.00M524.58,259.19h2.00M525.58,258.19v2.00M527.21,256.27h2.00M528.21,255.27v2.00M529.25,259.19h2.00M530.25,258.19v2.00M531.15,262.55h2.00M532.15,261.55v2.00M533.34,256.27h2.00M534.34,255.27v2.00M535.53,259.19h2.00M536.53,258.19v2.00M537.72,256.27h2.00M538.72,255.27v2.00M539.91,255.83h2.00M540.91,254.83v2.00M542.10,252.32h2.00M543.10,251.32v2.00M544.29,255.83h2.00M545.29,254.83v2.00M546.48,252.32h2.00M547.48,251.32v2.00M552.32,252.32h2.00M553.32,251.32v2.00M554.51,256.27h2.00M555.51,255.27v2.00M557.43,262.84h2.00M558.43,261.84v2.00M559.62,259.19h2.00M560.62,258.19v2.00M561.38,259.19h2.00M562.38,258.19v2.00M563.71,262.55h2.00M564.71,261.55v2.00M565.76,259.19h2.00M566.76,258.19v2.00M572.03,259.19h2.00M573.03,258.19v2.00M573.93,262.55h2.00M574.93,261.55v2.00M576.41,255.83h2.00M577.41,254.83v2.00M578.31,252.62h2.00M579.31,251.62v2.00M580.36,256.27h2.00M581.36,255.27v2.00M582.25,245.32h2.00M583.25,244.32v2.00M585.17,242.39h2.00M586.17,241.39v2.00M587.36,252.62h2.00M588.36,251.62v2.00M589.55,262.55h2.00M590.55,261.55v2.00M591.45,259.19h2.00M592.45,258.19v2.00M593.20,262.55h2.00M594.20,261.55v2.00M595.00,265.76h2.00M596.00,264.76v2.00M597.92,262.55h2.00M598.92,261.55v2.00M600.11,259.19h2.00M601.11,258.19v2.00M602.01,259.19h2.00M603.01,258.19v2.00M604.05,256.27h2.00M605.05,255.27v2.00M606.39,262.84h2.00M607.39,261.84v2.00M609.31,265.76h2.00M610.31,264.76v2.00M611.35,259.19h2.00M612.35,258.19v2.00M616.90,259.19h2.00M617.90,258.19v2.00M619.53,263.13h2.00M620.53,262.13v2.00M621.57,259.19h2.00M622.57,258.19v2.00M624.20,259.19h2.00M625.20,258.19v2.00M626.39,263.13h2.00M627.39,262.13v2.00M628.29,248.97h2.00M629.29,247.97v2.00M630.04,256.27h2.00M631.04,255.27v2.00M632.23,245.02h2.00M633.23,244.02v2.00M634.42,241.66h2.00M635.42,240.66v2.00M637.34,248.97h2.00M638.34,247.97v2.00M640.99,242.10h2.00M641.99,241.10v2.00M644.64,248.97h2.00M645.64,247.97v2.00M647.56,241.66h2.00M648.56,240.66v2.00M649.75,241.66h2.00M650.75,240.66v2.00M651.94,252.32h2.00M652.94,251.32v2.00M654.13,252.32h2.00M655.13,251.32v2.00M656.03,242.39h2.00M657.03,241.39v2.00M658.07,252.32h2.00M659.07,251.32v2.00M660.41,248.97h2.00M661.41,247.97v2.00M662.89,252.32h2.00M663.89,251.32v2.00M665.08,256.27h2.00M666.08,255.27v2.00M667.27,259.19h2.00M668.27,258.19v2.00M669.17,248.97h2.00M670.17,247.97v2.00M670.92,248.97h2.00M671.92,247.97v2.00M673.84,255.83h2.00M674.84,254.83v2.00M676.03,256.27h2.00M677.03,255.27v2.00M677.93,259.92h2.00M678.93,258.92v2.00M679.68,265.76h2.00M680.68,264.76v2.00M682.31,265.76h2.00M683.31,264.76v2.00M684.06,252.62h2.00M685.06,251.62v2.00M686.25,255.83h2.00M687.25,254.83v2.00M688.44,248.97h2.00M689.44,247.97v2.00M690.63,242.10h2.00M691.63,241.10v2.00M692.53,249.40h2.00M693.53,248.40v2.00M94.19,265.76h2.00M95.19,264.76v2.00M96.26,265.76h2.00M97.26,264.76v2.00M98.33,265.76h2.00M99.33,264.76v2.00M100.40,265.76h2.00M101.40,264.76v2.00M102.47,265.76h2.00M103.47,264.76v2.00M137.66,237.83h2.00M138.66,236.83v2.00M162.50,245.02h2.00M163.50,244.02v2.00M164.57,245.02h2.00M165.57,244.02v2.00M170.78,247.84h2.00M171.78,246.84v2.00M203.90,243.26h2.00M204.90,242.26v2.00M237.02,238.56h2.00M238.02,237.56v2.00M249.44,238.01h2.00M250.44,237.01v2.00M251.51,238.01h2.00M252.51,237.01v2.00M280.49,238.12h2.00M281.49,237.12v2.00M340.52,249.40h2.00M341.52,248.40v2.00M342.59,249.40h2.00M343.59,248.40v2.00M390.20,265.76h2.00M391.20,264.76v2.00M392.27,265.76h2.00M393.27,264.76v2.00M394.34,265.76h2.00M395.34,264.76v2.00M396.41,265.76h2.00M397.41,264.76v2.00M398.48,265.76h2.00M399.48,264.76v2.00M400.55,265.76h2.00M401.55,264.76v2.00M402.62,265.76h2.00M403.62,264.76v2.00M404.69,265.76h2.00M405.69,264.76v2.00M406.76,265.76h2.00M407.76,264.76v2.00M408.83,265.76h2.00M409.83,264.76v2.00M410.90,265.76h2.00M411.90,264.76v2.00M412.97,265.76h2.00M413.97,264.76v2.00M415.04,265.76h2.00M416.04,264.76v2.00M417.11,265.76h2.00M418.11,264.76v2.00M419.18,265.76h2.00M420.18,264.76v2.00M421.25,265.76h2.00M422.25,264.76v2.00M423.32,265.76h2.00M424.32,264.76v2.00M425.39,265.76h2.00M426.39,264.76v2.00M427.46,265.76h2.00M428.46,264.76v2.00M429.53,265.76h2.00M430.53,264.76v2.00M431.60,265.76h2.00M432.60,264.76v2.00M433.67,265.76h2.00M434.67,264.76v2.00M435.74,265.76h2.00M436.74,264.76v2.00M437.81,265.76h2.00M438.81,264.76v2.00M464.72,265.76h2.00M465.72,264.76v2.00M466.79,265.76h2.00M467.79,264.76v2.00M468.86,265.76h2.00M469.86,264.76v2.00M495.77,265.76h2.00M496.77,264.76v2.00M497.84,265.76h2.00M498.84,264.76v2.00M499.91,265.76h2.00M500.91,264.76v2.00M501.98,265.76h2.00M502.98,264.76v2.00M504.05,265.76h2.00M505.05,264.76v2.00M516.47,262.55h2.00M517.47,261.55v2.00M549.59,252.32h2.00M550.59,251.32v2.00M568.22,259.19h2.00M569.22,258.19v2.00M570.29,259.19h2.00M571.29,258.19v2.00M613.76,259.19h2.00M614.76,258.19v2.00M642.74,245.39h2.00M643.74,244.39v2.00" stroke="#000" stroke-width="0.85" fill="none"/>
<path d="M422.13,259.19h2.40M423.33,257.99v2.40" stroke="#000" stroke-width="1.0" fill="none"/>
<path d="M79.1,332.4 L81.2,332.4" fill="none" stroke="#ffa500" stroke-width="1.5" stroke-linejoin="round"/>
<path d="M77.95,332.40h2.30M79.10,331.25v2.30M80.05,332.40h2.30M81.20,331.25v2.30" stroke="#000" stroke-width="0.95" fill="none"/>
<path d="M85.3,332.4 L87.9,332.4 L90.5,332.4" fill="none" stroke="#ffa500" stroke-width="1.5" stroke-linejoin="round"/>
<path d="M84.15,332.40h2.30M85.30,331.25v2.30M86.75,332.40h2.30M87.90,331.25v2.30M89.35,332.40h2.30M90.50,331.25v2.30" stroke="#000" stroke-width="0.95" fill="none"/>
<path d="M106.7,338.4 L111.0,338.4 L113.2,332.0 L115.4,338.4 L118.0,345.0 L120.5,345.0 L122.4,358.0 L124.5,345.0 L126.4,358.0 L128.3,338.4 L130.3,358.0 L132.2,351.4 L133.4,351.4 L135.6,358.0 L137.3,345.0 L141.4,345.0 L143.5,325.4 L146.4,345.0 L148.3,332.0 L150.2,351.4 L151.9,338.4 L154.1,351.4 L156.3,345.0 L158.5,351.4 L161.1,338.4 L163.2,325.4 L165.4,351.4 L167.3,345.0 L169.4,345.0 L171.6,338.4 L173.5,338.4 L176.0,345.0 L178.2,338.4 L180.0,332.0 L182.2,345.0 L186.6,345.0 L188.8,351.4 L191.4,345.0 L195.3,345.0 L197.5,332.0 L199.7,338.4 L201.6,345.0 L208.0,345.0 L210.4,358.0 L212.4,345.0 L214.3,338.4 L216.5,358.0 L219.4,351.4 L221.6,345.0 L223.5,345.0 L225.3,338.4 L227.5,351.4 L236.2,351.4 L238.4,358.0 L240.2,345.0 L242.5,351.4 L244.5,345.0 L246.9,351.4 L249.4,338.4 L251.5,351.4 L253.3,351.4 L255.2,345.0 L257.4,351.4 L259.6,345.0 L261.5,351.4 L264.0,338.4 L266.4,351.4 L268.3,345.0 L270.5,338.4 L272.3,332.0 L274.6,338.4 L277.1,351.4 L281.0,351.4 L285.2,358.0 L287.2,332.0 L289.5,358.0 L292.5,351.4 L294.2,338.4 L296.4,358.0 L298.3,338.4 L300.4,358.0 L302.7,351.4 L305.2,351.4 L307.4,345.0 L311.0,345.0 L313.2,332.0 L315.4,345.0 L322.0,345.0 L324.2,351.4 L326.3,338.4 L328.5,345.0 L330.4,351.4 L332.9,345.0 L335.1,338.4 L337.3,345.0 L339.5,351.4 L341.7,338.4 L347.5,338.4 L350.0,325.4 L351.9,338.4 L354.4,338.4 L356.3,332.0 L358.5,332.0 L360.7,338.4 L362.8,332.0 L365.0,338.4 L367.5,338.4 L369.4,332.0 L375.3,332.0 L377.4,325.4 L384.7,325.4" fill="none" stroke="#ffa500" stroke-width="1.5" stroke-linejoin="round"/>
<path d="M105.51,338.44h2.30M106.66,337.29v2.30M109.89,338.44h2.30M111.04,337.29v2.30M112.08,332.02h2.30M113.23,330.87v2.30M114.27,338.44h2.30M115.42,337.29v2.30M116.90,345.01h2.30M118.05,343.86v2.30M119.38,345.01h2.30M120.53,343.86v2.30M121.28,358.01h2.30M122.43,356.86v2.30M123.32,345.01h2.30M124.47,343.86v2.30M125.22,358.01h2.30M126.37,356.86v2.30M127.12,338.44h2.30M128.27,337.29v2.30M129.16,358.01h2.30M130.31,356.86v2.30M131.06,351.44h2.30M132.21,350.29v2.30M132.23,351.44h2.30M133.38,350.29v2.30M134.42,358.01h2.30M135.57,356.86v2.30M136.17,345.01h2.30M137.32,343.86v2.30M140.26,345.01h2.30M141.41,343.86v2.30M142.31,325.44h2.30M143.46,324.29v2.30M145.23,345.01h2.30M146.38,343.86v2.30M147.12,332.02h2.30M148.27,330.87v2.30M149.02,351.44h2.30M150.17,350.29v2.30M150.77,338.44h2.30M151.92,337.29v2.30M152.96,351.44h2.30M154.11,350.29v2.30M155.15,345.01h2.30M156.30,343.86v2.30M157.34,351.44h2.30M158.49,350.29v2.30M159.97,338.44h2.30M161.12,337.29v2.30M162.02,325.44h2.30M163.17,324.29v2.30M164.21,351.44h2.30M165.36,350.29v2.30M166.10,345.01h2.30M167.25,343.86v2.30M168.29,345.01h2.30M169.44,343.86v2.30M170.48,338.44h2.30M171.63,337.29v2.30M172.38,338.44h2.30M173.53,337.29v2.30M174.86,345.01h2.30M176.01,343.86v2.30M177.05,338.44h2.30M178.20,337.29v2.30M178.81,332.02h2.30M179.96,330.87v2.30M181.04,345.01h2.30M182.19,343.86v2.30M185.42,345.01h2.30M186.57,343.86v2.30M187.61,351.44h2.30M188.76,350.29v2.30M190.24,345.01h2.30M191.39,343.86v2.30M194.18,345.01h2.30M195.33,343.86v2.30M196.37,332.02h2.30M197.52,330.87v2.30M198.56,338.44h2.30M199.71,337.29v2.30M200.46,345.01h2.30M201.61,343.86v2.30M206.88,345.01h2.30M208.03,343.86v2.30M209.22,358.01h2.30M210.37,356.86v2.30M211.26,345.01h2.30M212.41,343.86v2.30M213.16,338.44h2.30M214.31,337.29v2.30M215.35,358.01h2.30M216.50,356.86v2.30M218.27,351.44h2.30M219.42,350.29v2.30M220.46,345.01h2.30M221.61,343.86v2.30M222.36,345.01h2.30M223.51,343.86v2.30M224.11,338.44h2.30M225.26,337.29v2.30M226.30,351.44h2.30M227.45,350.29v2.30M235.06,351.44h2.30M236.21,350.29v2.30M237.25,358.01h2.30M238.40,356.86v2.30M239.00,345.01h2.30M240.15,343.86v2.30M241.34,351.44h2.30M242.49,350.29v2.30M243.38,345.01h2.30M244.53,343.86v2.30M245.72,351.44h2.30M246.87,350.29v2.30M248.20,338.44h2.30M249.35,337.29v2.30M250.39,351.44h2.30M251.54,350.29v2.30M252.15,351.44h2.30M253.30,350.29v2.30M254.04,345.01h2.30M255.19,343.86v2.30M256.23,351.44h2.30M257.38,350.29v2.30M258.42,345.01h2.30M259.57,343.86v2.30M260.32,351.44h2.30M261.47,350.29v2.30M262.80,338.44h2.30M263.95,337.29v2.30M265.29,351.44h2.30M266.44,350.29v2.30M267.18,345.01h2.30M268.33,343.86v2.30M269.37,338.44h2.30M270.52,337.29v2.30M271.13,332.02h2.30M272.28,330.87v2.30M273.46,338.44h2.30M274.61,337.29v2.30M275.94,351.44h2.30M277.09,350.29v2.30M279.89,351.44h2.30M281.04,350.29v2.30M284.02,358.01h2.30M285.17,356.86v2.30M286.06,332.02h2.30M287.21,330.87v2.30M288.40,358.01h2.30M289.55,356.86v2.30M291.32,351.44h2.30M292.47,350.29v2.30M293.07,338.44h2.30M294.22,337.29v2.30M295.26,358.01h2.30M296.41,356.86v2.30M297.16,338.44h2.30M298.31,337.29v2.30M299.20,358.01h2.30M300.35,356.86v2.30M301.54,351.44h2.30M302.69,350.29v2.30M304.02,351.44h2.30M305.17,350.29v2.30M306.21,345.01h2.30M307.36,343.86v2.30M309.86,345.01h2.30M311.01,343.86v2.30M312.05,332.02h2.30M313.20,330.87v2.30M314.24,345.01h2.30M315.39,343.86v2.30M320.81,345.01h2.30M321.96,343.86v2.30M323.00,351.44h2.30M324.15,350.29v2.30M325.19,338.44h2.30M326.34,337.29v2.30M327.38,345.01h2.30M328.53,343.86v2.30M329.28,351.44h2.30M330.43,350.29v2.30M331.76,345.01h2.30M332.91,343.86v2.30M333.95,338.44h2.30M335.10,337.29v2.30M336.14,345.01h2.30M337.29,343.86v2.30M338.33,351.44h2.30M339.48,350.29v2.30M340.52,338.44h2.30M341.67,337.29v2.30M346.36,338.44h2.30M347.51,337.29v2.30M348.85,325.44h2.30M350.00,324.29v2.30M350.74,338.44h2.30M351.89,337.29v2.30M353.23,338.44h2.30M354.38,337.29v2.30M355.12,332.02h2.30M356.27,330.87v2.30M357.31,332.02h2.30M358.46,330.87v2.30M359.50,338.44h2.30M360.65,337.29v2.30M361.69,332.02h2.30M362.84,330.87v2.30M363.88,338.44h2.30M365.03,337.29v2.30M366.37,338.44h2.30M367.52,337.29v2.30M368.26,332.02h2.30M369.41,330.87v2.30M374.10,332.02h2.30M375.25,330.87v2.30M376.29,325.44h2.30M377.44,324.29v2.30M383.59,325.44h2.30M384.74,324.29v2.30M107.58,338.44h2.30M108.73,337.29v2.30M138.63,345.01h2.30M139.78,343.86v2.30M192.45,345.01h2.30M193.60,343.86v2.30M202.80,345.01h2.30M203.95,343.86v2.30M204.87,345.01h2.30M206.02,343.86v2.30M227.64,351.44h2.30M228.79,350.29v2.30M229.71,351.44h2.30M230.86,350.29v2.30M231.78,351.44h2.30M232.93,350.29v2.30M277.32,351.44h2.30M278.47,350.29v2.30M281.46,353.94h2.30M282.61,352.79v2.30M289.74,354.99h2.30M290.89,353.84v2.30M308.37,345.01h2.30M309.52,343.86v2.30M316.65,345.01h2.30M317.80,343.86v2.30M318.72,345.01h2.30M319.87,343.86v2.30M343.56,338.44h2.30M344.71,337.29v2.30M370.47,332.02h2.30M371.62,330.87v2.30M372.54,332.02h2.30M373.69,330.87v2.30M378.75,325.44h2.30M379.90,324.29v2.30M380.82,325.44h2.30M381.97,324.29v2.30" stroke="#000" stroke-width="0.95" fill="none"/>
<path d="M452.5,364.9 L454.4,364.9 L455.9,364.9 L457.8,364.9" fill="none" stroke="#ffa500" stroke-width="1.5" stroke-linejoin="round"/>
<path d="M451.38,364.87h2.30M452.53,363.72v2.30M453.28,364.87h2.30M454.43,363.72v2.30M454.74,364.87h2.30M455.89,363.72v2.30M456.64,364.87h2.30M457.79,363.72v2.30" stroke="#000" stroke-width="0.95" fill="none"/>
<path d="M483.2,365.2 L485.1,358.3" fill="none" stroke="#ffa500" stroke-width="1.5" stroke-linejoin="round"/>
<path d="M482.05,365.16h2.30M483.20,364.01v2.30M483.94,358.30h2.30M485.09,357.15v2.30" stroke="#000" stroke-width="0.95" fill="none"/>
<path d="M510.3,378.0 L513.2,378.0 L515.4,384.6 L517.6,391.2 L519.4,371.4" fill="none" stroke="#ffa500" stroke-width="1.5" stroke-linejoin="round"/>
<path d="M509.10,378.01h2.30M510.25,376.86v2.30M512.02,378.01h2.30M513.17,376.86v2.30M514.21,384.59h2.30M515.36,383.44v2.30M516.40,391.16h2.30M517.55,390.01v2.30M518.30,371.44h2.30M519.45,370.29v2.30" stroke="#000" stroke-width="0.95" fill="none"/>
<path d="M525.6,378.0 L528.2,371.4 L530.3,378.0 L532.2,371.4 L534.3,378.0 L536.5,364.9 L539.5,378.0 L541.4,371.4 L543.4,384.6 L545.7,378.0 L551.9,378.0 L554.1,378.0 L556.2,371.4 L558.9,378.0 L560.6,378.0 L562.4,391.2 L564.7,378.0 L566.5,391.2 L568.7,378.0 L570.8,384.6 L573.5,371.4 L575.5,378.0 L577.4,378.0 L579.3,371.4 L581.4,378.0 L588.4,378.0 L590.1,391.2 L592.5,378.0 L594.9,384.6 L599.2,391.2 L601.1,378.0 L603.3,358.3 L605.5,358.3 L607.4,384.6" fill="none" stroke="#ffa500" stroke-width="1.5" stroke-linejoin="round"/>
<path d="M524.43,378.01h2.30M525.58,376.86v2.30M527.06,371.44h2.30M528.21,370.29v2.30M529.10,378.01h2.30M530.25,376.86v2.30M531.00,371.44h2.30M532.15,370.29v2.30M533.19,378.01h2.30M534.34,376.86v2.30M535.38,364.87h2.30M536.53,363.72v2.30M538.30,378.01h2.30M539.45,376.86v2.30M540.20,371.44h2.30M541.35,370.29v2.30M542.24,384.59h2.30M543.39,383.44v2.30M544.58,378.01h2.30M545.73,376.86v2.30M550.71,378.01h2.30M551.86,376.86v2.30M552.90,378.01h2.30M554.05,376.86v2.30M555.09,371.44h2.30M556.24,370.29v2.30M557.72,378.01h2.30M558.87,376.86v2.30M559.47,378.01h2.30M560.62,376.86v2.30M561.23,391.16h2.30M562.38,390.01v2.30M563.56,378.01h2.30M564.71,376.86v2.30M565.31,391.16h2.30M566.46,390.01v2.30M567.50,378.01h2.30M568.65,376.86v2.30M569.69,384.59h2.30M570.84,383.44v2.30M572.32,371.44h2.30M573.47,370.29v2.30M574.37,378.01h2.30M575.52,376.86v2.30M576.26,378.01h2.30M577.41,376.86v2.30M578.16,371.44h2.30M579.31,370.29v2.30M580.21,378.01h2.30M581.36,376.86v2.30M587.21,378.01h2.30M588.36,376.86v2.30M588.97,391.16h2.30M590.12,390.01v2.30M591.30,378.01h2.30M592.45,376.86v2.30M593.78,384.59h2.30M594.93,383.44v2.30M598.06,391.16h2.30M599.21,390.01v2.30M599.96,378.01h2.30M601.11,376.86v2.30M602.15,358.30h2.30M603.30,357.15v2.30M604.34,358.30h2.30M605.49,357.15v2.30M606.24,384.59h2.30M607.39,383.44v2.30M536.85,371.49h2.30M538.00,370.34v2.30M547.20,378.01h2.30M548.35,376.86v2.30M549.27,378.01h2.30M550.42,376.86v2.30M582.39,378.01h2.30M583.54,376.86v2.30M584.46,378.01h2.30M585.61,376.86v2.30" stroke="#000" stroke-width="0.95" fill="none"/>
<path d="M612.4,371.4 L614.3,378.0 L616.4,384.6 L618.6,391.2 L620.5,378.0 L622.6,391.2 L625.2,378.0 L627.4,358.3 L629.6,384.6 L631.3,397.3 L633.7,378.0 L635.4,371.4 L638.3,391.2 L640.5,378.0 L646.4,378.0 L648.3,371.4 L650.8,358.3 L653.2,364.9 L655.1,371.4 L657.3,378.0 L659.1,364.9 L661.4,378.0 L663.5,371.4 L665.4,371.4 L668.3,378.0 L670.5,378.0 L672.2,371.4 L674.6,371.4 L676.3,364.9 L678.5,371.4" fill="none" stroke="#ffa500" stroke-width="1.5" stroke-linejoin="round"/>
<path d="M611.20,371.44h2.30M612.35,370.29v2.30M613.10,378.01h2.30M614.25,376.86v2.30M615.29,384.59h2.30M616.44,383.44v2.30M617.48,391.16h2.30M618.63,390.01v2.30M619.38,378.01h2.30M620.53,376.86v2.30M621.42,391.16h2.30M622.57,390.01v2.30M624.05,378.01h2.30M625.20,376.86v2.30M626.24,358.30h2.30M627.39,357.15v2.30M628.43,384.59h2.30M629.58,383.44v2.30M630.18,397.29h2.30M631.33,396.14v2.30M632.52,378.01h2.30M633.67,376.86v2.30M634.27,371.44h2.30M635.42,370.29v2.30M637.19,391.16h2.30M638.34,390.01v2.30M639.38,378.01h2.30M640.53,376.86v2.30M645.22,378.01h2.30M646.37,376.86v2.30M647.12,371.44h2.30M648.27,370.29v2.30M649.60,358.30h2.30M650.75,357.15v2.30M652.08,364.87h2.30M653.23,363.72v2.30M653.98,371.44h2.30M655.13,370.29v2.30M656.17,378.01h2.30M657.32,376.86v2.30M657.92,364.87h2.30M659.07,363.72v2.30M660.26,378.01h2.30M661.41,376.86v2.30M662.31,371.44h2.30M663.46,370.29v2.30M664.20,371.44h2.30M665.35,370.29v2.30M667.12,378.01h2.30M668.27,376.86v2.30M669.31,378.01h2.30M670.46,376.86v2.30M671.07,371.44h2.30M672.22,370.29v2.30M673.40,371.44h2.30M674.55,370.29v2.30M675.15,364.87h2.30M676.30,363.72v2.30M677.34,371.44h2.30M678.49,370.29v2.30M642.25,378.01h2.30M643.40,376.86v2.30" stroke="#000" stroke-width="0.95" fill="none"/>
<path d="M685.1,364.9 L687.3,371.4 L689.4,371.4 L691.6,364.9 L693.8,364.9" fill="none" stroke="#ffa500" stroke-width="1.5" stroke-linejoin="round"/>
<path d="M683.91,364.87h2.30M685.06,363.72v2.30M686.10,371.44h2.30M687.25,370.29v2.30M688.29,371.44h2.30M689.44,370.29v2.30M690.48,364.87h2.30M691.63,363.72v2.30M692.67,364.87h2.30M693.82,363.72v2.30" stroke="#000" stroke-width="0.95" fill="none"/>
<path d="M443.01,371.44h2.40M444.21,370.24v2.40M447.10,358.30h2.40M448.30,357.10v2.40M460.24,358.30h2.40M461.44,357.10v2.40M473.24,365.16h2.40M474.44,363.96v2.40M490.17,358.30h2.40M491.37,357.10v2.40" stroke="#000" stroke-width="1.0" fill="none"/>
<path d="M78.2,530.5 L83.3,530.1 L89.1,529.3 L95.0,528.3 L99.4,527.1 L105.2,526.4 L111.0,525.7 L115.4,525.4 L118.3,524.7 L126.4,524.2 L130.0,522.5 L137.3,522.8 L139.1,504.9 L143.2,504.1 L155.6,503.8 L159.2,502.7 L168.0,502.3 L170.9,501.7 L180.0,502.2 L201.9,501.9 L204.1,501.1 L226.7,501.1 L229.6,500.0 L238.4,499.6 L241.3,499.0 L248.6,498.9 L251.5,497.9 L259.6,497.4 L261.8,497.9 L272.7,497.9 L274.9,496.7 L286.0,496.4 L289.8,496.1 L296.4,495.4 L300.8,493.9 L307.4,492.9 L313.2,492.4 L316.9,489.5 L322.0,488.1 L326.3,485.9 L330.7,484.1 L333.6,482.7 L338.0,481.8 L343.1,481.8 L345.0,458.9 L348.2,457.4 L354.1,456.7 L359.9,454.9 L371.6,454.9 L377.4,454.6 L390.0,454.6 L392.4,454.7 L494.0,454.4 L500.0,455.0 L502.2,454.0 L546.8,454.0 L549.7,450.3 L590.6,450.6 L592.7,449.6 L598.0,449.6 L600.4,450.0 L664.6,450.0 L667.5,448.9 L677.8,449.2 L680.7,447.8 L683.6,447.0 L687.3,446.7 L689.4,445.8 L693.8,445.9" fill="none" stroke="#008000" stroke-width="1.95" stroke-linejoin="round"/>
<path d="M77.24,530.91h1.90M78.19,529.96v1.90M79.28,530.73h1.90M80.23,529.78v1.90M81.32,530.56h1.90M82.27,529.61v1.90M83.36,530.34h1.90M84.31,529.39v1.90M85.40,530.09h1.90M86.35,529.14v1.90M87.44,529.83h1.90M88.39,528.88v1.90M89.48,529.51h1.90M90.43,528.56v1.90M91.52,529.15h1.90M92.47,528.20v1.90M93.56,528.80h1.90M94.51,527.85v1.90M95.60,528.30h1.90M96.55,527.35v1.90M97.64,527.75h1.90M98.59,526.80v1.90M99.68,527.39h1.90M100.63,526.44v1.90M101.72,527.13h1.90M102.67,526.18v1.90M103.76,526.88h1.90M104.71,525.93v1.90M105.80,526.62h1.90M106.75,525.67v1.90M107.84,526.37h1.90M108.79,525.42v1.90M109.88,526.11h1.90M110.83,525.16v1.90M111.92,525.96h1.90M112.87,525.01v1.90M113.96,525.83h1.90M114.91,524.88v1.90M116.00,525.41h1.90M116.95,524.46v1.90M118.04,525.03h1.90M118.99,524.08v1.90M120.08,524.91h1.90M121.03,523.96v1.90M122.12,524.80h1.90M123.07,523.85v1.90M124.16,524.69h1.90M125.11,523.74v1.90M126.20,524.25h1.90M127.15,523.30v1.90M128.24,523.27h1.90M129.19,522.32v1.90M130.28,522.92h1.90M131.23,521.97v1.90M132.32,523.00h1.90M133.27,522.05v1.90M134.36,523.08h1.90M135.31,522.13v1.90M136.40,522.88h1.90M137.35,521.93v1.90M138.44,505.27h1.90M139.39,504.32v1.90M140.48,504.83h1.90M141.43,503.88v1.90M142.52,504.45h1.90M143.47,503.50v1.90M144.56,504.40h1.90M145.51,503.45v1.90M146.60,504.36h1.90M147.55,503.41v1.90M148.64,504.31h1.90M149.59,503.36v1.90M150.68,504.26h1.90M151.63,503.31v1.90M152.72,504.21h1.90M153.67,503.26v1.90M154.76,504.13h1.90M155.71,503.18v1.90M156.80,503.56h1.90M157.75,502.61v1.90M158.84,503.12h1.90M159.79,502.17v1.90M160.88,503.01h1.90M161.83,502.06v1.90M162.92,502.91h1.90M163.87,501.96v1.90M164.96,502.81h1.90M165.91,501.86v1.90M167.00,502.71h1.90M167.95,501.76v1.90M169.04,502.30h1.90M169.99,501.35v1.90M171.08,502.19h1.90M172.03,501.24v1.90M173.12,502.30h1.90M174.07,501.35v1.90M175.16,502.42h1.90M176.11,501.47v1.90M177.20,502.54h1.90M178.15,501.59v1.90M179.24,502.64h1.90M180.19,501.69v1.90M181.28,502.61h1.90M182.23,501.66v1.90M183.32,502.58h1.90M184.27,501.63v1.90M185.36,502.56h1.90M186.31,501.61v1.90M187.40,502.53h1.90M188.35,501.58v1.90M189.44,502.50h1.90M190.39,501.55v1.90M191.48,502.48h1.90M192.43,501.53v1.90M193.52,502.45h1.90M194.47,501.50v1.90M195.56,502.42h1.90M196.51,501.47v1.90M197.60,502.39h1.90M198.55,501.44v1.90M199.64,502.37h1.90M200.59,501.42v1.90M201.68,502.06h1.90M202.63,501.11v1.90M203.72,501.47h1.90M204.67,500.52v1.90M205.76,501.47h1.90M206.71,500.52v1.90M207.80,501.47h1.90M208.75,500.52v1.90M209.84,501.47h1.90M210.79,500.52v1.90M211.88,501.47h1.90M212.83,500.52v1.90M213.92,501.47h1.90M214.87,500.52v1.90M215.96,501.47h1.90M216.91,500.52v1.90M218.00,501.47h1.90M218.95,500.52v1.90M220.04,501.47h1.90M220.99,500.52v1.90M222.08,501.47h1.90M223.03,500.52v1.90M224.12,501.47h1.90M225.07,500.52v1.90M226.16,501.34h1.90M227.11,500.39v1.90M228.20,500.62h1.90M229.15,499.67v1.90M230.24,500.37h1.90M231.19,499.42v1.90M232.28,500.27h1.90M233.23,499.32v1.90M234.32,500.17h1.90M235.27,499.22v1.90M236.36,500.07h1.90M237.31,499.12v1.90M238.40,499.82h1.90M239.35,498.87v1.90M240.44,499.43h1.90M241.39,498.48v1.90M242.48,499.38h1.90M243.43,498.43v1.90M244.52,499.34h1.90M245.47,498.39v1.90M246.56,499.30h1.90M247.51,498.35v1.90M248.60,498.96h1.90M249.55,498.01v1.90M250.64,498.26h1.90M251.59,497.31v1.90M252.68,498.14h1.90M253.63,497.19v1.90M254.72,498.03h1.90M255.67,497.08v1.90M256.76,497.92h1.90M257.71,496.97v1.90M258.80,497.85h1.90M259.75,496.90v1.90M260.84,498.26h1.90M261.79,497.31v1.90M262.88,498.26h1.90M263.83,497.31v1.90M264.92,498.26h1.90M265.87,497.31v1.90M266.96,498.26h1.90M267.91,497.31v1.90M269.00,498.26h1.90M269.95,497.31v1.90M271.04,498.26h1.90M271.99,497.31v1.90M273.08,497.56h1.90M274.03,496.61v1.90M275.12,497.06h1.90M276.07,496.11v1.90M277.16,497.00h1.90M278.11,496.05v1.90M279.20,496.95h1.90M280.15,496.00v1.90M281.24,496.90h1.90M282.19,495.95v1.90M283.28,496.84h1.90M284.23,495.89v1.90M285.32,496.78h1.90M286.27,495.83v1.90M287.36,496.62h1.90M288.31,495.67v1.90M289.40,496.44h1.90M290.35,495.49v1.90M291.44,496.21h1.90M292.39,495.26v1.90M293.48,495.98h1.90M294.43,495.03v1.90M295.52,495.75h1.90M296.47,494.80v1.90M297.56,495.07h1.90M298.51,494.12v1.90M299.60,494.39h1.90M300.55,493.44v1.90M301.64,494.03h1.90M302.59,493.08v1.90M303.68,493.71h1.90M304.63,492.76v1.90M305.72,493.39h1.90M306.67,492.44v1.90M307.76,493.18h1.90M308.71,492.23v1.90M309.80,493.03h1.90M310.75,492.08v1.90M311.84,492.88h1.90M312.79,491.93v1.90M313.88,491.54h1.90M314.83,490.59v1.90M315.92,489.92h1.90M316.87,488.97v1.90M317.96,489.34h1.90M318.91,488.39v1.90M320.00,488.75h1.90M320.95,487.80v1.90M322.04,487.95h1.90M322.99,487.00v1.90M324.08,486.93h1.90M325.03,485.98v1.90M326.12,485.98h1.90M327.07,485.03v1.90M328.16,485.17h1.90M329.11,484.22v1.90M330.20,484.31h1.90M331.15,483.36v1.90M332.24,483.29h1.90M333.19,482.34v1.90M334.28,482.75h1.90M335.23,481.80v1.90M336.32,482.34h1.90M337.27,481.39v1.90M338.36,482.19h1.90M339.31,481.24v1.90M340.40,482.19h1.90M341.35,481.24v1.90M342.44,479.08h1.90M343.39,478.13v1.90M344.48,459.09h1.90M345.43,458.14v1.90M346.52,458.16h1.90M347.47,457.21v1.90M348.56,457.65h1.90M349.51,456.70v1.90M350.60,457.40h1.90M351.55,456.45v1.90M352.64,457.14h1.90M353.59,456.19v1.90M354.68,456.61h1.90M355.63,455.66v1.90M356.72,456.00h1.90M357.67,455.05v1.90M358.76,455.39h1.90M359.71,454.44v1.90M360.80,455.33h1.90M361.75,454.38v1.90M362.84,455.33h1.90M363.79,454.38v1.90M364.88,455.33h1.90M365.83,454.38v1.90M366.92,455.33h1.90M367.87,454.38v1.90M368.96,455.33h1.90M369.91,454.38v1.90M371.00,455.31h1.90M371.95,454.36v1.90M373.04,455.21h1.90M373.99,454.26v1.90M375.08,455.11h1.90M376.03,454.16v1.90M377.12,455.04h1.90M378.07,454.09v1.90M379.16,455.04h1.90M380.11,454.09v1.90M381.20,455.04h1.90M382.15,454.09v1.90M383.24,455.04h1.90M384.19,454.09v1.90M385.28,455.04h1.90M386.23,454.09v1.90M387.32,455.04h1.90M388.27,454.09v1.90M389.36,455.04h1.90M390.31,454.09v1.90M391.40,455.11h1.90M392.35,454.16v1.90M393.44,455.10h1.90M394.39,454.15v1.90M395.48,455.10h1.90M396.43,454.15v1.90M397.52,455.09h1.90M398.47,454.14v1.90M399.56,455.08h1.90M400.51,454.13v1.90M401.60,455.08h1.90M402.55,454.13v1.90M403.64,455.07h1.90M404.59,454.12v1.90M405.68,455.07h1.90M406.63,454.12v1.90M407.72,455.06h1.90M408.67,454.11v1.90M409.76,455.06h1.90M410.71,454.11v1.90M411.80,455.05h1.90M412.75,454.10v1.90M413.84,455.04h1.90M414.79,454.09v1.90M415.88,455.04h1.90M416.83,454.09v1.90M417.92,455.03h1.90M418.87,454.08v1.90M419.96,455.03h1.90M420.91,454.08v1.90M422.00,455.02h1.90M422.95,454.07v1.90M424.04,455.01h1.90M424.99,454.06v1.90M426.08,455.01h1.90M427.03,454.06v1.90M428.12,455.00h1.90M429.07,454.05v1.90M430.16,455.00h1.90M431.11,454.05v1.90M432.20,454.99h1.90M433.15,454.04v1.90M434.24,454.99h1.90M435.19,454.04v1.90M436.28,454.98h1.90M437.23,454.03v1.90M438.32,454.97h1.90M439.27,454.02v1.90M440.36,454.97h1.90M441.31,454.02v1.90M442.40,454.96h1.90M443.35,454.01v1.90M444.44,454.96h1.90M445.39,454.01v1.90M446.48,454.95h1.90M447.43,454.00v1.90M448.52,454.94h1.90M449.47,453.99v1.90M450.56,454.94h1.90M451.51,453.99v1.90M452.60,454.93h1.90M453.55,453.98v1.90M454.64,454.93h1.90M455.59,453.98v1.90M456.68,454.92h1.90M457.63,453.97v1.90M458.72,454.91h1.90M459.67,453.96v1.90M460.76,454.91h1.90M461.71,453.96v1.90M462.80,454.90h1.90M463.75,453.95v1.90M464.84,454.90h1.90M465.79,453.95v1.90M466.88,454.89h1.90M467.83,453.94v1.90M468.92,454.89h1.90M469.87,453.94v1.90M470.96,454.88h1.90M471.91,453.93v1.90M473.00,454.87h1.90M473.95,453.92v1.90M475.04,454.87h1.90M475.99,453.92v1.90M477.08,454.86h1.90M478.03,453.91v1.90M479.12,454.86h1.90M480.07,453.91v1.90M481.16,454.85h1.90M482.11,453.90v1.90M483.20,454.84h1.90M484.15,453.89v1.90M485.24,454.84h1.90M486.19,453.89v1.90M487.28,454.83h1.90M488.23,453.88v1.90M489.32,454.83h1.90M490.27,453.88v1.90M491.36,454.82h1.90M492.31,453.87v1.90M493.40,454.85h1.90M494.35,453.90v1.90M495.44,455.05h1.90M496.39,454.10v1.90M497.48,455.25h1.90M498.43,454.30v1.90M499.52,455.19h1.90M500.47,454.24v1.90M501.56,454.38h1.90M502.51,453.43v1.90M503.60,454.38h1.90M504.55,453.43v1.90M505.64,454.38h1.90M506.59,453.43v1.90M507.68,454.38h1.90M508.63,453.43v1.90M509.72,454.38h1.90M510.67,453.43v1.90M511.76,454.38h1.90M512.71,453.43v1.90M513.80,454.38h1.90M514.75,453.43v1.90M515.84,454.38h1.90M516.79,453.43v1.90M517.88,454.38h1.90M518.83,453.43v1.90M519.92,454.38h1.90M520.87,453.43v1.90M521.96,454.38h1.90M522.91,453.43v1.90M524.00,454.38h1.90M524.95,453.43v1.90M526.04,454.38h1.90M526.99,453.43v1.90M528.08,454.38h1.90M529.03,453.43v1.90M530.12,454.38h1.90M531.07,453.43v1.90M532.16,454.38h1.90M533.11,453.43v1.90M534.20,454.38h1.90M535.15,453.43v1.90M536.24,454.38h1.90M537.19,453.43v1.90M538.28,454.38h1.90M539.23,453.43v1.90M540.32,454.38h1.90M541.27,453.43v1.90M542.36,454.38h1.90M543.31,453.43v1.90M544.40,454.38h1.90M545.35,453.43v1.90M546.44,453.58h1.90M547.39,452.63v1.90M548.48,451.03h1.90M549.43,450.08v1.90M550.52,450.74h1.90M551.47,449.79v1.90M552.56,450.76h1.90M553.51,449.81v1.90M554.60,450.77h1.90M555.55,449.82v1.90M556.64,450.79h1.90M557.59,449.84v1.90M558.68,450.80h1.90M559.63,449.85v1.90M560.72,450.81h1.90M561.67,449.86v1.90M562.76,450.83h1.90M563.71,449.88v1.90M564.80,450.84h1.90M565.75,449.89v1.90M566.84,450.86h1.90M567.79,449.91v1.90M568.88,450.87h1.90M569.83,449.92v1.90M570.92,450.89h1.90M571.87,449.94v1.90M572.96,450.90h1.90M573.91,449.95v1.90M575.00,450.92h1.90M575.95,449.97v1.90M577.04,450.93h1.90M577.99,449.98v1.90M579.08,450.95h1.90M580.03,450.00v1.90M581.12,450.96h1.90M582.07,450.01v1.90M583.16,450.97h1.90M584.11,450.02v1.90M585.20,450.99h1.90M586.15,450.04v1.90M587.24,451.00h1.90M588.19,450.05v1.90M589.28,451.02h1.90M590.23,450.07v1.90M591.32,450.22h1.90M592.27,449.27v1.90M593.36,450.00h1.90M594.31,449.05v1.90M595.40,450.00h1.90M596.35,449.05v1.90M597.44,450.07h1.90M598.39,449.12v1.90M599.48,450.44h1.90M600.43,449.49v1.90M601.52,450.44h1.90M602.47,449.49v1.90M603.56,450.44h1.90M604.51,449.49v1.90M605.60,450.44h1.90M606.55,449.49v1.90M607.64,450.44h1.90M608.59,449.49v1.90M609.68,450.44h1.90M610.63,449.49v1.90M611.72,450.44h1.90M612.67,449.49v1.90M613.76,450.44h1.90M614.71,449.49v1.90M615.80,450.44h1.90M616.75,449.49v1.90M617.84,450.44h1.90M618.79,449.49v1.90M619.88,450.44h1.90M620.83,449.49v1.90M621.92,450.44h1.90M622.87,449.49v1.90M623.96,450.44h1.90M624.91,449.49v1.90M626.00,450.44h1.90M626.95,449.49v1.90M628.04,450.44h1.90M628.99,449.49v1.90M630.08,450.44h1.90M631.03,449.49v1.90M632.12,450.44h1.90M633.07,449.49v1.90M634.16,450.44h1.90M635.11,449.49v1.90M636.20,450.44h1.90M637.15,449.49v1.90M638.24,450.44h1.90M639.19,449.49v1.90M640.28,450.44h1.90M641.23,449.49v1.90M642.32,450.44h1.90M643.27,449.49v1.90M644.36,450.44h1.90M645.31,449.49v1.90M646.40,450.44h1.90M647.35,449.49v1.90M648.44,450.44h1.90M649.39,449.49v1.90M650.48,450.44h1.90M651.43,449.49v1.90M652.52,450.44h1.90M653.47,449.49v1.90M654.56,450.44h1.90M655.51,449.49v1.90M656.60,450.44h1.90M657.55,449.49v1.90M658.64,450.44h1.90M659.59,449.49v1.90M660.68,450.44h1.90M661.63,449.49v1.90M662.72,450.44h1.90M663.67,449.49v1.90M664.76,450.00h1.90M665.71,449.05v1.90M666.80,449.27h1.90M667.75,448.32v1.90M668.84,449.33h1.90M669.79,448.38v1.90M670.88,449.39h1.90M671.83,448.44v1.90M672.92,449.45h1.90M673.87,448.50v1.90M674.96,449.51h1.90M675.91,448.56v1.90M677.00,449.48h1.90M677.95,448.53v1.90M679.04,448.56h1.90M679.99,447.61v1.90M681.08,447.84h1.90M682.03,446.89v1.90M683.12,447.33h1.90M684.07,446.38v1.90M685.16,447.17h1.90M686.11,446.22v1.90M687.20,446.72h1.90M688.15,445.77v1.90M689.24,446.23h1.90M690.19,445.28v1.90M691.28,446.30h1.90M692.23,445.35v1.90" stroke="#000" stroke-width="0.9" fill="none"/>
<path d="M78.6,569.9 L81.8,570.5 L85.5,571.4 L89.1,570.9 L92.1,572.0 L97.9,571.7 L102.3,572.0 L106.7,570.9 L110.3,572.0 L113.7,569.9 L116.9,571.4 L119.8,572.0 L124.2,576.4 L127.4,571.7 L129.3,572.4 L131.2,576.4 L134.4,577.5 L138.8,572.8 L141.7,573.1 L145.4,571.7 L149.0,573.9 L151.9,574.3 L155.6,573.9 L157.8,573.4 L169.4,573.4 L172.4,574.3 L176.7,573.4 L180.0,574.3 L184.4,576.4 L188.8,576.1 L191.7,577.2 L199.0,579.0 L201.9,578.2 L204.1,579.3 L206.3,578.2 L210.7,579.7 L213.6,580.4 L217.2,579.0 L224.5,579.0 L228.2,580.4 L231.8,579.0 L235.5,580.1 L248.6,580.1 L253.0,582.2 L257.4,582.2 L260.3,583.6 L263.5,581.9 L267.6,584.1 L274.2,584.1 L277.1,586.0 L279.3,585.1 L282.2,586.3 L284.0,585.8 L287.7,585.8 L290.6,587.2 L293.9,585.3 L297.1,587.2 L300.1,589.0 L303.0,587.5 L307.4,587.8 L311.7,589.7 L316.1,590.1 L319.0,591.2 L322.0,589.7 L327.8,589.7 L331.5,588.7 L334.4,589.0 L337.3,590.4 L339.5,590.1 L341.7,588.7 L349.7,589.0 L354.1,586.8 L358.5,585.8 L371.6,585.8 L374.5,584.6 L377.4,585.8 L386.2,585.8 L388.0,586.1 L392.4,584.9 L403.3,584.9 L405.5,586.1 L427.4,585.8 L429.6,584.9 L431.8,586.1 L434.0,584.9 L438.4,584.9 L440.6,586.1 L450.8,585.8 L458.1,588.7 L462.5,589.3 L467.6,591.9 L469.8,593.6 L475.6,594.1 L480.0,596.3 L490.2,598.0 L492.0,599.5 L496.4,600.5 L500.8,602.9 L505.1,604.3 L508.1,604.9 L512.4,608.3 L516.1,609.3 L519.7,609.0 L527.0,612.7 L530.0,614.9 L532.9,613.7 L537.3,615.6 L543.1,618.1 L550.4,619.2 L556.2,620.7 L559.9,622.5 L563.5,622.2 L567.9,623.9 L573.8,627.3 L581.1,629.8 L585.4,629.8 L591.3,633.6 L594.2,636.5 L596.0,637.5 L599.7,639.0 L603.3,637.8 L606.2,641.2 L610.6,642.2 L613.5,643.1 L617.9,649.2 L622.3,651.0 L626.7,650.0 L631.0,655.1 L634.7,655.8 L639.8,658.3 L645.6,659.2 L648.6,658.0 L660.2,658.0 L664.6,659.8 L669.0,660.6 L673.4,662.4 L677.0,660.6 L683.6,662.1 L689.4,662.7 L693.8,663.1" fill="none" stroke="#ff0000" stroke-width="1.95" stroke-linejoin="round"/>
<path d="M77.68,570.33h1.90M78.63,569.38v1.90M79.72,570.70h1.90M80.67,569.75v1.90M81.76,571.12h1.90M82.71,570.17v1.90M83.80,571.61h1.90M84.75,570.66v1.90M85.84,571.63h1.90M86.79,570.68v1.90M87.88,571.39h1.90M88.83,570.44v1.90M89.92,571.95h1.90M90.87,571.00v1.90M91.96,572.33h1.90M92.91,571.38v1.90M94.00,572.23h1.90M94.95,571.28v1.90M96.04,572.12h1.90M96.99,571.17v1.90M98.08,572.15h1.90M99.03,571.20v1.90M100.12,572.29h1.90M101.07,571.34v1.90M102.16,572.18h1.90M103.11,571.23v1.90M104.20,571.70h1.90M105.15,570.75v1.90M106.24,571.50h1.90M107.19,570.55v1.90M108.28,572.07h1.90M109.23,571.12v1.90M110.32,571.79h1.90M111.27,570.84v1.90M112.36,570.55h1.90M113.31,569.60v1.90M114.40,571.09h1.90M115.35,570.14v1.90M116.44,571.89h1.90M117.39,570.94v1.90M118.48,572.30h1.90M119.43,571.35v1.90M120.52,574.04h1.90M121.47,573.09v1.90M122.56,576.08h1.90M123.51,575.13v1.90M124.60,574.76h1.90M125.55,573.81v1.90M126.64,572.15h1.90M127.59,571.20v1.90M128.68,573.51h1.90M129.63,572.56v1.90M130.72,576.92h1.90M131.67,575.97v1.90M132.76,577.67h1.90M133.71,576.72v1.90M134.80,576.48h1.90M135.75,575.53v1.90M136.84,574.31h1.90M137.79,573.36v1.90M138.88,573.35h1.90M139.83,572.40v1.90M140.92,573.47h1.90M141.87,572.52v1.90M142.96,572.66h1.90M143.91,571.71v1.90M145.00,572.44h1.90M145.95,571.49v1.90M147.04,573.66h1.90M147.99,572.71v1.90M149.08,574.42h1.90M150.03,573.47v1.90M151.12,574.69h1.90M152.07,573.74v1.90M153.16,574.44h1.90M154.11,573.49v1.90M155.20,574.15h1.90M156.15,573.20v1.90M157.24,573.83h1.90M158.19,572.88v1.90M159.28,573.83h1.90M160.23,572.88v1.90M161.32,573.83h1.90M162.27,572.88v1.90M163.36,573.83h1.90M164.31,572.88v1.90M165.40,573.83h1.90M166.35,572.88v1.90M167.44,573.83h1.90M168.39,572.88v1.90M169.48,574.13h1.90M170.43,573.18v1.90M171.52,574.69h1.90M172.47,573.74v1.90M173.56,574.28h1.90M174.51,573.33v1.90M175.60,573.87h1.90M176.55,572.92v1.90M177.64,574.33h1.90M178.59,573.38v1.90M179.68,575.00h1.90M180.63,574.05v1.90M181.72,575.95h1.90M182.67,575.00v1.90M183.76,576.73h1.90M184.71,575.78v1.90M185.80,576.59h1.90M186.75,575.64v1.90M187.84,576.47h1.90M188.79,575.52v1.90M189.88,577.29h1.90M190.83,576.34v1.90M191.92,577.91h1.90M192.87,576.96v1.90M193.96,578.40h1.90M194.91,577.45v1.90M196.00,578.89h1.90M196.95,577.94v1.90M198.04,579.38h1.90M198.99,578.43v1.90M200.08,578.87h1.90M201.03,577.92v1.90M202.12,579.19h1.90M203.07,578.24v1.90M204.16,579.20h1.90M205.11,578.25v1.90M206.20,578.94h1.90M207.15,577.99v1.90M208.24,579.62h1.90M209.19,578.67v1.90M210.28,580.25h1.90M211.23,579.30v1.90M212.32,580.76h1.90M213.27,579.81v1.90M214.36,580.15h1.90M215.31,579.20v1.90M216.40,579.38h1.90M217.35,578.43v1.90M218.44,579.38h1.90M219.39,578.43v1.90M220.48,579.38h1.90M221.43,578.43v1.90M222.52,579.38h1.90M223.47,578.43v1.90M224.56,579.77h1.90M225.51,578.82v1.90M226.60,580.58h1.90M227.55,579.63v1.90M228.64,580.28h1.90M229.59,579.33v1.90M230.68,579.46h1.90M231.63,578.51v1.90M232.72,579.97h1.90M233.67,579.02v1.90M234.76,580.55h1.90M235.71,579.60v1.90M236.80,580.55h1.90M237.75,579.60v1.90M238.84,580.55h1.90M239.79,579.60v1.90M240.88,580.55h1.90M241.83,579.60v1.90M242.92,580.55h1.90M243.87,579.60v1.90M244.96,580.55h1.90M245.91,579.60v1.90M247.00,580.55h1.90M247.95,579.60v1.90M249.04,581.18h1.90M249.99,580.23v1.90M251.08,582.13h1.90M252.03,581.18v1.90M253.12,582.59h1.90M254.07,581.64v1.90M255.16,582.59h1.90M256.11,581.64v1.90M257.20,582.97h1.90M258.15,582.02v1.90M259.24,583.99h1.90M260.19,583.04v1.90M261.28,583.00h1.90M262.23,582.05v1.90M263.32,582.70h1.90M264.27,581.75v1.90M265.36,583.79h1.90M266.31,582.84v1.90M267.40,584.49h1.90M268.35,583.54v1.90M269.44,584.49h1.90M270.39,583.54v1.90M271.48,584.49h1.90M272.43,583.54v1.90M273.52,584.68h1.90M274.47,583.73v1.90M275.56,586.00h1.90M276.51,585.05v1.90M277.60,585.80h1.90M278.55,584.85v1.90M279.64,586.03h1.90M280.59,585.08v1.90M281.68,586.56h1.90M282.63,585.61v1.90M283.72,586.17h1.90M284.67,585.22v1.90M285.76,586.17h1.90M286.71,585.22v1.90M287.80,586.72h1.90M288.75,585.77v1.90M289.84,587.50h1.90M290.79,586.55v1.90M291.88,586.35h1.90M292.83,585.40v1.90M293.92,586.28h1.90M294.87,585.33v1.90M295.96,587.49h1.90M296.91,586.54v1.90M298.00,588.71h1.90M298.95,587.76v1.90M300.04,588.91h1.90M300.99,587.96v1.90M302.08,587.92h1.90M303.03,586.97v1.90M304.12,588.06h1.90M305.07,587.11v1.90M306.16,588.19h1.90M307.11,587.24v1.90M308.20,588.98h1.90M309.15,588.03v1.90M310.24,589.87h1.90M311.19,588.92v1.90M312.28,590.26h1.90M313.23,589.31v1.90M314.32,590.46h1.90M315.27,589.51v1.90M316.36,590.96h1.90M317.31,590.01v1.90M318.40,591.41h1.90M319.35,590.46v1.90M320.44,590.39h1.90M321.39,589.44v1.90M322.48,590.11h1.90M323.43,589.16v1.90M324.52,590.11h1.90M325.47,589.16v1.90M326.56,590.11h1.90M327.51,589.16v1.90M328.60,589.62h1.90M329.55,588.67v1.90M330.64,589.10h1.90M331.59,588.15v1.90M332.68,589.30h1.90M333.63,588.35v1.90M334.72,590.03h1.90M335.67,589.08v1.90M336.76,590.78h1.90M337.71,589.83v1.90M338.80,590.37h1.90M339.75,589.42v1.90M340.84,589.09h1.90M341.79,588.14v1.90M342.88,589.16h1.90M343.83,588.21v1.90M344.92,589.24h1.90M345.87,588.29v1.90M346.96,589.31h1.90M347.91,588.36v1.90M349.00,589.26h1.90M349.95,588.31v1.90M351.04,588.24h1.90M351.99,587.29v1.90M353.08,587.22h1.90M354.03,586.27v1.90M355.12,586.73h1.90M356.07,585.78v1.90M357.16,586.25h1.90M358.11,585.30v1.90M359.20,586.17h1.90M360.15,585.22v1.90M361.24,586.17h1.90M362.19,585.22v1.90M363.28,586.17h1.90M364.23,585.22v1.90M365.32,586.17h1.90M366.27,585.22v1.90M367.36,586.17h1.90M368.31,585.22v1.90M369.40,586.17h1.90M370.35,585.22v1.90M371.44,585.85h1.90M372.39,584.90v1.90M373.48,585.04h1.90M374.43,584.09v1.90M375.52,585.78h1.90M376.47,584.83v1.90M377.56,586.17h1.90M378.51,585.22v1.90M379.60,586.17h1.90M380.55,585.22v1.90M381.64,586.17h1.90M382.59,585.22v1.90M383.68,586.17h1.90M384.63,585.22v1.90M385.72,586.24h1.90M386.67,585.29v1.90M387.76,586.27h1.90M388.71,585.32v1.90M389.80,585.73h1.90M390.75,584.78v1.90M391.84,585.29h1.90M392.79,584.34v1.90M393.88,585.29h1.90M394.83,584.34v1.90M395.92,585.29h1.90M396.87,584.34v1.90M397.96,585.29h1.90M398.91,584.34v1.90M400.00,585.29h1.90M400.95,584.34v1.90M402.04,585.29h1.90M402.99,584.34v1.90M404.08,586.20h1.90M405.03,585.25v1.90M406.12,586.44h1.90M407.07,585.49v1.90M408.16,586.41h1.90M409.11,585.46v1.90M410.20,586.38h1.90M411.15,585.43v1.90M412.24,586.36h1.90M413.19,585.41v1.90M414.28,586.33h1.90M415.23,585.38v1.90M416.32,586.30h1.90M417.27,585.35v1.90M418.36,586.27h1.90M419.31,585.32v1.90M420.40,586.25h1.90M421.35,585.30v1.90M422.44,586.22h1.90M423.39,585.27v1.90M424.48,586.19h1.90M425.43,585.24v1.90M426.52,586.15h1.90M427.47,585.20v1.90M428.56,585.33h1.90M429.51,584.38v1.90M430.60,586.32h1.90M431.55,585.37v1.90M432.64,585.51h1.90M433.59,584.56v1.90M434.68,585.29h1.90M435.63,584.34v1.90M436.72,585.29h1.90M437.67,584.34v1.90M438.76,586.00h1.90M439.71,585.05v1.90M440.80,586.42h1.90M441.75,585.47v1.90M442.84,586.37h1.90M443.79,585.42v1.90M444.88,586.31h1.90M445.83,585.36v1.90M446.92,586.25h1.90M447.87,585.30v1.90M448.96,586.19h1.90M449.91,585.24v1.90M451.00,586.63h1.90M451.95,585.68v1.90M453.04,587.45h1.90M453.99,586.50v1.90M455.08,588.26h1.90M456.03,587.31v1.90M457.12,589.08h1.90M458.07,588.13v1.90M459.16,589.36h1.90M460.11,588.41v1.90M461.20,589.63h1.90M462.15,588.68v1.90M463.24,590.56h1.90M464.19,589.61v1.90M465.28,591.61h1.90M466.23,590.66v1.90M467.32,592.85h1.90M468.27,591.90v1.90M469.36,594.09h1.90M470.31,593.14v1.90M471.40,594.24h1.90M472.35,593.29v1.90M473.44,594.40h1.90M474.39,593.45v1.90M475.48,594.90h1.90M476.43,593.95v1.90M477.52,595.92h1.90M478.47,594.97v1.90M479.56,596.77h1.90M480.51,595.82v1.90M481.60,597.12h1.90M482.55,596.17v1.90M483.64,597.47h1.90M484.59,596.52v1.90M485.68,597.82h1.90M486.63,596.87v1.90M487.72,598.17h1.90M488.67,597.22v1.90M489.76,598.84h1.90M490.71,597.89v1.90M491.80,600.08h1.90M492.75,599.13v1.90M493.84,600.55h1.90M494.79,599.60v1.90M495.88,601.17h1.90M496.83,600.22v1.90M497.92,602.25h1.90M498.87,601.30v1.90M499.96,603.31h1.90M500.91,602.36v1.90M502.00,604.00h1.90M502.95,603.05v1.90M504.04,604.68h1.90M504.99,603.73v1.90M506.08,605.11h1.90M507.03,604.16v1.90M508.12,606.09h1.90M509.07,605.14v1.90M510.16,607.65h1.90M511.11,606.70v1.90M512.20,608.87h1.90M513.15,607.92v1.90M514.24,609.45h1.90M515.19,608.50v1.90M516.28,609.61h1.90M517.23,608.66v1.90M518.32,609.44h1.90M519.27,608.49v1.90M520.36,610.19h1.90M521.31,609.24v1.90M522.40,611.21h1.90M523.35,610.26v1.90M524.44,612.23h1.90M525.39,611.28v1.90M526.48,613.35h1.90M527.43,612.40v1.90M528.52,614.88h1.90M529.47,613.93v1.90M530.56,614.63h1.90M531.51,613.68v1.90M532.60,614.37h1.90M533.55,613.42v1.90M534.64,615.26h1.90M535.59,614.31v1.90M536.68,616.14h1.90M537.63,615.19v1.90M538.72,617.01h1.90M539.67,616.06v1.90M540.76,617.88h1.90M541.71,616.93v1.90M542.80,618.57h1.90M543.75,617.62v1.90M544.84,618.90h1.90M545.79,617.95v1.90M546.88,619.23h1.90M547.83,618.28v1.90M548.92,619.55h1.90M549.87,618.60v1.90M550.96,620.02h1.90M551.91,619.07v1.90M553.00,620.53h1.90M553.95,619.58v1.90M555.04,621.04h1.90M555.99,620.09v1.90M557.08,621.96h1.90M558.03,621.01v1.90M559.12,622.84h1.90M560.07,621.89v1.90M561.16,622.68h1.90M562.11,621.73v1.90M563.20,622.81h1.90M564.15,621.86v1.90M565.24,623.62h1.90M566.19,622.67v1.90M567.28,624.49h1.90M568.23,623.54v1.90M569.32,625.67h1.90M570.27,624.72v1.90M571.36,626.84h1.90M572.31,625.89v1.90M573.40,627.88h1.90M574.35,626.93v1.90M575.44,628.57h1.90M576.39,627.62v1.90M577.48,629.27h1.90M578.43,628.32v1.90M579.52,629.96h1.90M580.47,629.01v1.90M581.56,630.17h1.90M582.51,629.22v1.90M583.60,630.17h1.90M584.55,629.22v1.90M585.64,630.91h1.90M586.59,629.96v1.90M587.68,632.24h1.90M588.63,631.29v1.90M589.72,633.57h1.90M590.67,632.62v1.90M591.76,635.39h1.90M592.71,634.44v1.90M593.80,637.21h1.90M594.75,636.26v1.90M595.84,638.26h1.90M596.79,637.31v1.90M597.88,639.08h1.90M598.83,638.13v1.90M599.92,639.02h1.90M600.87,638.07v1.90M601.96,638.36h1.90M602.91,637.41v1.90M604.00,640.13h1.90M604.95,639.18v1.90M606.04,641.78h1.90M606.99,640.83v1.90M608.08,642.25h1.90M609.03,641.30v1.90M610.12,642.76h1.90M611.07,641.81v1.90M612.16,643.38h1.90M613.11,642.43v1.90M614.20,645.78h1.90M615.15,644.83v1.90M616.24,648.64h1.90M617.19,647.69v1.90M618.28,650.17h1.90M619.23,649.22v1.90M620.32,650.99h1.90M621.27,650.04v1.90M622.36,651.15h1.90M623.31,650.20v1.90M624.40,650.68h1.90M625.35,649.73v1.90M626.44,651.22h1.90M627.39,650.27v1.90M628.48,653.60h1.90M629.43,652.65v1.90M630.52,655.57h1.90M631.47,654.62v1.90M632.56,655.98h1.90M633.51,655.03v1.90M634.60,656.64h1.90M635.55,655.69v1.90M636.64,657.63h1.90M637.59,656.68v1.90M638.68,658.62h1.90M639.63,657.67v1.90M640.72,658.98h1.90M641.67,658.03v1.90M642.76,659.29h1.90M643.71,658.34v1.90M644.80,659.54h1.90M645.75,658.59v1.90M646.84,658.72h1.90M647.79,657.77v1.90M648.88,658.41h1.90M649.83,657.46v1.90M650.92,658.41h1.90M651.87,657.46v1.90M652.96,658.41h1.90M653.91,657.46v1.90M655.00,658.41h1.90M655.95,657.46v1.90M657.04,658.41h1.90M657.99,657.46v1.90M659.08,658.41h1.90M660.03,657.46v1.90M661.12,659.14h1.90M662.07,658.19v1.90M663.16,659.96h1.90M664.11,659.01v1.90M665.20,660.47h1.90M666.15,659.52v1.90M667.24,660.88h1.90M668.19,659.93v1.90M669.28,661.53h1.90M670.23,660.58v1.90M671.32,662.35h1.90M672.27,661.40v1.90M673.36,662.35h1.90M674.31,661.40v1.90M675.40,661.37h1.90M676.35,660.42v1.90M677.44,661.34h1.90M678.39,660.39v1.90M679.48,661.80h1.90M680.43,660.85v1.90M681.52,662.25h1.90M682.47,661.30v1.90M683.56,662.60h1.90M684.51,661.65v1.90M685.60,662.80h1.90M686.55,661.85v1.90M687.64,663.00h1.90M688.59,662.05v1.90M689.68,663.21h1.90M690.63,662.26v1.90M691.72,663.41h1.90M692.67,662.46v1.90" stroke="#000" stroke-width="0.9" fill="none"/>
<path d="M78.5,83.3 L80.6,83.3 L82.8,83.3 L84.9,83.3 L87.1,86.7 L89.2,86.7 L91.4,86.7 L93.5,86.7 L95.7,86.7 L97.8,86.7 L100.0,86.7 L102.1,86.7 L104.3,86.7 L106.4,86.7 L108.6,86.7 L110.7,86.7 L112.9,86.7 L115.0,86.7 L117.1,86.7 L119.3,86.7 L121.4,86.7 L123.6,86.7 L125.7,86.7 L127.9,86.7 L130.0,86.7 L132.2,86.7 L134.3,86.7 L136.5,83.3 L138.6,83.3 L140.8,83.3 L142.9,83.3 L145.1,83.3 L147.2,83.3 L149.4,83.3 L151.5,83.3 L153.6,86.7 L155.8,86.7 L157.9,83.3 L160.1,83.3 L162.2,83.3 L164.4,86.7 L166.5,86.7 L168.7,86.7 L170.8,86.7 L173.0,86.7 L175.1,86.7 L177.3,86.7 L179.4,86.7 L181.6,86.7 L183.7,86.7 L185.9,86.7 L188.0,86.7 L190.1,86.7 L192.3,86.7 L194.4,86.7 L196.6,86.7 L198.7,86.7 L200.9,86.7 L203.0,86.7 L205.2,86.7 L207.3,86.7 L209.5,86.7 L211.6,86.7 L213.8,86.7 L215.9,86.7 L218.1,86.7 L220.2,86.7 L222.3,86.7 L224.5,86.7 L226.6,86.7 L228.8,86.7 L230.9,86.7 L233.1,83.3 L235.2,83.3 L237.4,83.3 L239.5,83.3 L241.7,83.3 L243.8,83.3 L246.0,83.3 L248.1,83.3 L250.3,83.3 L252.4,83.3 L254.6,83.3 L256.7,83.3 L258.8,83.3 L261.0,83.3 L263.1,83.3 L265.3,83.3 L267.4,83.3 L269.6,83.3 L271.7,83.3 L273.9,83.3 L276.0,83.3 L278.2,83.3 L280.3,83.3 L282.5,83.3 L284.6,86.7 L286.8,86.7 L288.9,86.7 L291.1,86.7 L293.2,86.7 L295.3,86.7 L297.5,86.7 L299.6,86.7 L301.8,86.7 L303.9,86.7 L306.1,86.7 L308.2,86.7 L310.4,86.7 L312.5,86.7 L314.7,86.7 L316.8,86.7 L319.0,86.7 L321.1,86.7 L323.3,86.7 L325.4,86.7 L327.6,86.7 L329.7,86.7 L331.8,86.7 L334.0,86.7 L336.1,86.7 L338.3,86.7 L340.4,86.7 L342.6,83.3 L344.7,86.7 L346.9,86.7 L349.0,86.7 L351.2,86.7 L353.3,86.7 L355.5,86.7 L357.6,86.7 L359.8,86.7 L361.9,86.7 L364.1,86.7 L366.2,86.7 L368.3,86.7 L370.5,86.7 L372.6,86.7 L374.8,89.7 L376.9,89.7 L379.1,89.7 L381.2,89.7 L383.4,89.7 L385.5,92.8 L387.7,92.8 L389.8,95.8 L392.0,95.8 L394.1,95.8 L396.3,95.8 L398.4,95.8 L400.6,95.8 L402.7,95.8 L404.8,98.8 L407.0,98.8 L409.1,98.8 L411.3,101.8 L413.4,104.9 L415.6,107.9 L417.7,110.9 L419.9,110.9 L422.0,104.9 L424.2,98.8 L426.3,95.8 L428.5,95.8 L430.6,92.8 L432.8,89.7 L434.9,89.7 L437.0,86.7 L439.2,83.3 L441.3,83.3 L443.5,83.3 L445.6,83.3 L447.8,80.6 L449.9,80.6 L452.1,80.6 L454.2,80.6 L456.4,77.6 L458.5,74.6 L460.7,74.6 L462.8,74.6 L465.0,74.6 L467.1,74.6 L469.3,74.6 L471.4,77.6 L473.5,77.6 L475.7,77.6 L477.8,77.6 L480.0,77.6 L482.1,77.6 L484.3,77.6 L486.4,77.6 L488.6,80.6 L490.7,80.6 L492.9,80.6 L495.0,83.3 L497.2,83.3 L499.3,83.3 L501.5,83.3 L503.6,83.3 L505.8,83.3 L507.9,83.3 L510.0,83.3 L512.2,86.7 L514.3,86.7 L516.5,86.7 L518.6,86.7 L520.8,86.7 L522.9,86.7 L525.1,86.7 L527.2,86.7 L529.4,86.7 L531.5,89.7 L533.7,86.7 L535.8,86.7 L538.0,86.7 L540.1,86.7 L542.3,89.7 L544.4,89.7 L546.5,86.7 L548.7,86.7 L550.8,86.7 L553.0,86.7 L555.1,89.7 L557.3,89.7 L559.4,89.7 L561.6,89.7 L563.7,89.7 L565.9,89.7 L568.0,89.7 L570.2,89.7 L572.3,89.7 L574.5,89.7 L576.6,89.7 L578.8,89.7 L580.9,86.7 L583.0,86.7 L585.2,86.7 L587.3,89.7 L589.5,89.7 L591.6,89.7 L593.8,92.8 L595.9,92.8 L598.1,92.8 L600.2,92.8 L602.4,92.8 L604.5,92.8 L606.7,92.8 L608.8,92.8 L611.0,92.8 L613.1,92.8 L615.3,92.8 L617.4,92.8 L619.5,95.8 L621.7,92.8 L623.8,92.8 L626.0,92.8 L628.1,92.8 L630.3,89.7 L632.4,86.7 L634.6,83.3 L636.7,83.3 L638.9,80.6 L641.0,77.6 L643.2,77.6 L645.3,74.6 L647.5,74.6 L649.6,71.6 L651.7,71.6 L653.9,71.6 L656.0,71.6 L658.2,74.6 L660.3,74.6 L662.5,77.6 L664.6,80.6 L666.8,80.6 L668.9,83.3 L671.1,83.3 L673.2,83.3 L675.4,83.3 L677.5,83.3 L679.7,83.3 L681.8,83.3 L684.0,83.3 L686.1,83.3 L688.2,83.3 L690.4,83.3 L692.5,83.3" fill="none" stroke="#000" stroke-width="1.9" stroke-linejoin="round"/>
<path d="M77.40,83.75h2.20M78.50,82.65v2.20M79.55,83.75h2.20M80.65,82.65v2.20M81.69,83.75h2.20M82.79,82.65v2.20M83.84,83.75h2.20M84.94,82.65v2.20M85.99,87.15h2.20M87.09,86.05v2.20M88.14,87.15h2.20M89.24,86.05v2.20M90.28,87.15h2.20M91.38,86.05v2.20M92.43,87.15h2.20M93.53,86.05v2.20M94.58,87.15h2.20M95.68,86.05v2.20M96.72,87.15h2.20M97.82,86.05v2.20M98.87,87.15h2.20M99.97,86.05v2.20M101.02,87.15h2.20M102.12,86.05v2.20M103.16,87.15h2.20M104.26,86.05v2.20M105.31,87.15h2.20M106.41,86.05v2.20M107.46,87.15h2.20M108.56,86.05v2.20M109.61,87.15h2.20M110.71,86.05v2.20M111.75,87.15h2.20M112.85,86.05v2.20M113.90,87.15h2.20M115.00,86.05v2.20M116.05,87.15h2.20M117.15,86.05v2.20M118.19,87.15h2.20M119.29,86.05v2.20M120.34,87.15h2.20M121.44,86.05v2.20M122.49,87.15h2.20M123.59,86.05v2.20M124.63,87.15h2.20M125.73,86.05v2.20M126.78,87.15h2.20M127.88,86.05v2.20M128.93,87.15h2.20M130.03,86.05v2.20M131.08,87.15h2.20M132.18,86.05v2.20M133.22,87.15h2.20M134.32,86.05v2.20M135.37,83.75h2.20M136.47,82.65v2.20M137.52,83.75h2.20M138.62,82.65v2.20M139.66,83.75h2.20M140.76,82.65v2.20M141.81,83.75h2.20M142.91,82.65v2.20M143.96,83.75h2.20M145.06,82.65v2.20M146.10,83.75h2.20M147.20,82.65v2.20M148.25,83.75h2.20M149.35,82.65v2.20M150.40,83.75h2.20M151.50,82.65v2.20M152.55,87.15h2.20M153.65,86.05v2.20M154.69,87.15h2.20M155.79,86.05v2.20M156.84,83.75h2.20M157.94,82.65v2.20M158.99,83.75h2.20M160.09,82.65v2.20M161.13,83.75h2.20M162.23,82.65v2.20M163.28,87.15h2.20M164.38,86.05v2.20M165.43,87.15h2.20M166.53,86.05v2.20M167.57,87.15h2.20M168.67,86.05v2.20M169.72,87.15h2.20M170.82,86.05v2.20M171.87,87.15h2.20M172.97,86.05v2.20M174.02,87.15h2.20M175.12,86.05v2.20M176.16,87.15h2.20M177.26,86.05v2.20M178.31,87.15h2.20M179.41,86.05v2.20M180.46,87.15h2.20M181.56,86.05v2.20M182.60,87.15h2.20M183.70,86.05v2.20M184.75,87.15h2.20M185.85,86.05v2.20M186.90,87.15h2.20M188.00,86.05v2.20M189.04,87.15h2.20M190.14,86.05v2.20M191.19,87.15h2.20M192.29,86.05v2.20M193.34,87.15h2.20M194.44,86.05v2.20M195.49,87.15h2.20M196.59,86.05v2.20M197.63,87.15h2.20M198.73,86.05v2.20M199.78,87.15h2.20M200.88,86.05v2.20M201.93,87.15h2.20M203.03,86.05v2.20M204.07,87.15h2.20M205.17,86.05v2.20M206.22,87.15h2.20M207.32,86.05v2.20M208.37,87.15h2.20M209.47,86.05v2.20M210.51,87.15h2.20M211.61,86.05v2.20M212.66,87.15h2.20M213.76,86.05v2.20M214.81,87.15h2.20M215.91,86.05v2.20M216.96,87.15h2.20M218.06,86.05v2.20M219.10,87.15h2.20M220.20,86.05v2.20M221.25,87.15h2.20M222.35,86.05v2.20M223.40,87.15h2.20M224.50,86.05v2.20M225.54,87.15h2.20M226.64,86.05v2.20M227.69,87.15h2.20M228.79,86.05v2.20M229.84,87.15h2.20M230.94,86.05v2.20M231.98,83.75h2.20M233.08,82.65v2.20M234.13,83.75h2.20M235.23,82.65v2.20M236.28,83.75h2.20M237.38,82.65v2.20M238.43,83.75h2.20M239.53,82.65v2.20M240.57,83.75h2.20M241.67,82.65v2.20M242.72,83.75h2.20M243.82,82.65v2.20M244.87,83.75h2.20M245.97,82.65v2.20M247.01,83.75h2.20M248.11,82.65v2.20M249.16,83.75h2.20M250.26,82.65v2.20M251.31,83.75h2.20M252.41,82.65v2.20M253.45,83.75h2.20M254.55,82.65v2.20M255.60,83.75h2.20M256.70,82.65v2.20M257.75,83.75h2.20M258.85,82.65v2.20M259.90,83.75h2.20M261.00,82.65v2.20M262.04,83.75h2.20M263.14,82.65v2.20M264.19,83.75h2.20M265.29,82.65v2.20M266.34,83.75h2.20M267.44,82.65v2.20M268.48,83.75h2.20M269.58,82.65v2.20M270.63,83.75h2.20M271.73,82.65v2.20M272.78,83.75h2.20M273.88,82.65v2.20M274.92,83.75h2.20M276.02,82.65v2.20M277.07,83.75h2.20M278.17,82.65v2.20M279.22,83.75h2.20M280.32,82.65v2.20M281.37,83.75h2.20M282.47,82.65v2.20M283.51,87.15h2.20M284.61,86.05v2.20M285.66,87.15h2.20M286.76,86.05v2.20M287.81,87.15h2.20M288.91,86.05v2.20M289.95,87.15h2.20M291.05,86.05v2.20M292.10,87.15h2.20M293.20,86.05v2.20M294.25,87.15h2.20M295.35,86.05v2.20M296.39,87.15h2.20M297.49,86.05v2.20M298.54,87.15h2.20M299.64,86.05v2.20M300.69,87.15h2.20M301.79,86.05v2.20M302.84,87.15h2.20M303.94,86.05v2.20M304.98,87.15h2.20M306.08,86.05v2.20M307.13,87.15h2.20M308.23,86.05v2.20M309.28,87.15h2.20M310.38,86.05v2.20M311.42,87.15h2.20M312.52,86.05v2.20M313.57,87.15h2.20M314.67,86.05v2.20M315.72,87.15h2.20M316.82,86.05v2.20M317.86,87.15h2.20M318.96,86.05v2.20M320.01,87.15h2.20M321.11,86.05v2.20M322.16,87.15h2.20M323.26,86.05v2.20M324.31,87.15h2.20M325.41,86.05v2.20M326.45,87.15h2.20M327.55,86.05v2.20M328.60,87.15h2.20M329.70,86.05v2.20M330.75,87.15h2.20M331.85,86.05v2.20M332.89,87.15h2.20M333.99,86.05v2.20M335.04,87.15h2.20M336.14,86.05v2.20M337.19,87.15h2.20M338.29,86.05v2.20M339.33,87.15h2.20M340.43,86.05v2.20M341.48,83.75h2.20M342.58,82.65v2.20M343.63,87.15h2.20M344.73,86.05v2.20M345.78,87.15h2.20M346.88,86.05v2.20M347.92,87.15h2.20M349.02,86.05v2.20M350.07,87.15h2.20M351.17,86.05v2.20M352.22,87.15h2.20M353.32,86.05v2.20M354.36,87.15h2.20M355.46,86.05v2.20M356.51,87.15h2.20M357.61,86.05v2.20M358.66,87.15h2.20M359.76,86.05v2.20M360.80,87.15h2.20M361.90,86.05v2.20M362.95,87.15h2.20M364.05,86.05v2.20M365.10,87.15h2.20M366.20,86.05v2.20M367.25,87.15h2.20M368.35,86.05v2.20M369.39,87.15h2.20M370.49,86.05v2.20M371.54,87.15h2.20M372.64,86.05v2.20M373.69,90.18h2.20M374.79,89.08v2.20M375.83,90.18h2.20M376.93,89.08v2.20M377.98,90.18h2.20M379.08,89.08v2.20M380.13,90.18h2.20M381.23,89.08v2.20M382.27,90.18h2.20M383.37,89.08v2.20M384.42,93.21h2.20M385.52,92.11v2.20M386.57,93.21h2.20M387.67,92.11v2.20M388.72,96.24h2.20M389.82,95.14v2.20M390.86,96.24h2.20M391.96,95.14v2.20M393.01,96.24h2.20M394.11,95.14v2.20M395.16,96.24h2.20M396.26,95.14v2.20M397.30,96.24h2.20M398.40,95.14v2.20M399.45,96.24h2.20M400.55,95.14v2.20M401.60,96.24h2.20M402.70,95.14v2.20M403.74,99.27h2.20M404.84,98.17v2.20M405.89,99.27h2.20M406.99,98.17v2.20M408.04,99.27h2.20M409.14,98.17v2.20M410.19,102.30h2.20M411.29,101.20v2.20M412.33,105.33h2.20M413.43,104.23v2.20M414.48,108.36h2.20M415.58,107.26v2.20M416.63,111.39h2.20M417.73,110.29v2.20M418.77,111.39h2.20M419.87,110.29v2.20M420.92,105.33h2.20M422.02,104.23v2.20M423.07,99.27h2.20M424.17,98.17v2.20M425.21,96.24h2.20M426.31,95.14v2.20M427.36,96.24h2.20M428.46,95.14v2.20M429.51,93.21h2.20M430.61,92.11v2.20M431.66,90.18h2.20M432.76,89.08v2.20M433.80,90.18h2.20M434.90,89.08v2.20M435.95,87.15h2.20M437.05,86.05v2.20M438.10,83.75h2.20M439.20,82.65v2.20M440.24,83.75h2.20M441.34,82.65v2.20M442.39,83.75h2.20M443.49,82.65v2.20M444.54,83.75h2.20M445.64,82.65v2.20M446.68,81.09h2.20M447.78,79.99v2.20M448.83,81.09h2.20M449.93,79.99v2.20M450.98,81.09h2.20M452.08,79.99v2.20M453.13,81.09h2.20M454.23,79.99v2.20M455.27,78.06h2.20M456.37,76.96v2.20M457.42,75.03h2.20M458.52,73.93v2.20M459.57,75.03h2.20M460.67,73.93v2.20M461.71,75.03h2.20M462.81,73.93v2.20M463.86,75.03h2.20M464.96,73.93v2.20M466.01,75.03h2.20M467.11,73.93v2.20M468.15,75.03h2.20M469.25,73.93v2.20M470.30,78.06h2.20M471.40,76.96v2.20M472.45,78.06h2.20M473.55,76.96v2.20M474.60,78.06h2.20M475.70,76.96v2.20M476.74,78.06h2.20M477.84,76.96v2.20M478.89,78.06h2.20M479.99,76.96v2.20M481.04,78.06h2.20M482.14,76.96v2.20M483.18,78.06h2.20M484.28,76.96v2.20M485.33,78.06h2.20M486.43,76.96v2.20M487.48,81.09h2.20M488.58,79.99v2.20M489.62,81.09h2.20M490.72,79.99v2.20M491.77,81.09h2.20M492.87,79.99v2.20M493.92,83.75h2.20M495.02,82.65v2.20M496.07,83.75h2.20M497.17,82.65v2.20M498.21,83.75h2.20M499.31,82.65v2.20M500.36,83.75h2.20M501.46,82.65v2.20M502.51,83.75h2.20M503.61,82.65v2.20M504.65,83.75h2.20M505.75,82.65v2.20M506.80,83.75h2.20M507.90,82.65v2.20M508.95,83.75h2.20M510.05,82.65v2.20M511.09,87.15h2.20M512.19,86.05v2.20M513.24,87.15h2.20M514.34,86.05v2.20M515.39,87.15h2.20M516.49,86.05v2.20M517.54,87.15h2.20M518.64,86.05v2.20M519.68,87.15h2.20M520.78,86.05v2.20M521.83,87.15h2.20M522.93,86.05v2.20M523.98,87.15h2.20M525.08,86.05v2.20M526.12,87.15h2.20M527.22,86.05v2.20M528.27,87.15h2.20M529.37,86.05v2.20M530.42,90.18h2.20M531.52,89.08v2.20M532.56,87.15h2.20M533.66,86.05v2.20M534.71,87.15h2.20M535.81,86.05v2.20M536.86,87.15h2.20M537.96,86.05v2.20M539.01,87.15h2.20M540.11,86.05v2.20M541.15,90.18h2.20M542.25,89.08v2.20M543.30,90.18h2.20M544.40,89.08v2.20M545.45,87.15h2.20M546.55,86.05v2.20M547.59,87.15h2.20M548.69,86.05v2.20M549.74,87.15h2.20M550.84,86.05v2.20M551.89,87.15h2.20M552.99,86.05v2.20M554.03,90.18h2.20M555.13,89.08v2.20M556.18,90.18h2.20M557.28,89.08v2.20M558.33,90.18h2.20M559.43,89.08v2.20M560.48,90.18h2.20M561.58,89.08v2.20M562.62,90.18h2.20M563.72,89.08v2.20M564.77,90.18h2.20M565.87,89.08v2.20M566.92,90.18h2.20M568.02,89.08v2.20M569.06,90.18h2.20M570.16,89.08v2.20M571.21,90.18h2.20M572.31,89.08v2.20M573.36,90.18h2.20M574.46,89.08v2.20M575.50,90.18h2.20M576.60,89.08v2.20M577.65,90.18h2.20M578.75,89.08v2.20M579.80,87.15h2.20M580.90,86.05v2.20M581.95,87.15h2.20M583.05,86.05v2.20M584.09,87.15h2.20M585.19,86.05v2.20M586.24,90.18h2.20M587.34,89.08v2.20M588.39,90.18h2.20M589.49,89.08v2.20M590.53,90.18h2.20M591.63,89.08v2.20M592.68,93.21h2.20M593.78,92.11v2.20M594.83,93.21h2.20M595.93,92.11v2.20M596.97,93.21h2.20M598.07,92.11v2.20M599.12,93.21h2.20M600.22,92.11v2.20M601.27,93.21h2.20M602.37,92.11v2.20M603.42,93.21h2.20M604.52,92.11v2.20M605.56,93.21h2.20M606.66,92.11v2.20M607.71,93.21h2.20M608.81,92.11v2.20M609.86,93.21h2.20M610.96,92.11v2.20M612.00,93.21h2.20M613.10,92.11v2.20M614.15,93.21h2.20M615.25,92.11v2.20M616.30,93.21h2.20M617.40,92.11v2.20M618.44,96.24h2.20M619.54,95.14v2.20M620.59,93.21h2.20M621.69,92.11v2.20M622.74,93.21h2.20M623.84,92.11v2.20M624.89,93.21h2.20M625.99,92.11v2.20M627.03,93.21h2.20M628.13,92.11v2.20M629.18,90.18h2.20M630.28,89.08v2.20M631.33,87.15h2.20M632.43,86.05v2.20M633.47,83.75h2.20M634.57,82.65v2.20M635.62,83.75h2.20M636.72,82.65v2.20M637.77,81.09h2.20M638.87,79.99v2.20M639.91,78.06h2.20M641.01,76.96v2.20M642.06,78.06h2.20M643.16,76.96v2.20M644.21,75.03h2.20M645.31,73.93v2.20M646.36,75.03h2.20M647.46,73.93v2.20M648.50,72.00h2.20M649.60,70.90v2.20M650.65,72.00h2.20M651.75,70.90v2.20M652.80,72.00h2.20M653.90,70.90v2.20M654.94,72.00h2.20M656.04,70.90v2.20M657.09,75.03h2.20M658.19,73.93v2.20M659.24,75.03h2.20M660.34,73.93v2.20M661.38,78.06h2.20M662.48,76.96v2.20M663.53,81.09h2.20M664.63,79.99v2.20M665.68,81.09h2.20M666.78,79.99v2.20M667.83,83.75h2.20M668.93,82.65v2.20M669.97,83.75h2.20M671.07,82.65v2.20M672.12,83.75h2.20M673.22,82.65v2.20M674.27,83.75h2.20M675.37,82.65v2.20M676.41,83.75h2.20M677.51,82.65v2.20M678.56,83.75h2.20M679.66,82.65v2.20M680.71,83.75h2.20M681.81,82.65v2.20M682.85,83.75h2.20M683.95,82.65v2.20M685.00,83.75h2.20M686.10,82.65v2.20M687.15,83.75h2.20M688.25,82.65v2.20M689.30,83.75h2.20M690.40,82.65v2.20M691.44,83.75h2.20M692.54,82.65v2.20" stroke="#000" stroke-width="1.0" fill="none"/>
<rect x="82.56" y="170.56" width="84.0" height="41.7" fill="#fff" stroke="#000" stroke-width="1.25"/>
<path d="M89.7,181.6H109.7" stroke="#0000ff" stroke-width="1.3"/><path d="M89.7,200.4H109.7" stroke="#ff0000" stroke-width="1.3"/>
<path d="M89,181.6h1.5M109,181.6h1.5M89,200.4h1.5M109,200.4h1.5" stroke="#000" stroke-width="1.5"/>
<text transform="translate(123.08,186.10) scale(0.9847,1)" font-size="13.35">Speed</text>
<text transform="translate(121.91,204.80) scale(0.9961,1)" font-size="13.35">Gust</text>
<rect x="82.56" y="435.4" width="153.0" height="22.8" fill="#fff" stroke="#000" stroke-width="1.25"/>
<path d="M89.1,446.2H109.4" stroke="#008000" stroke-width="1.5"/>
<path d="M88.5,446.2h1.5M108.6,446.2h1.5" stroke="#000" stroke-width="1.5"/>
<text transform="translate(121.67,449.90) scale(1.0699,1)" font-size="13.35">Precip (74.3 mm)</text>
</svg></body></html>
